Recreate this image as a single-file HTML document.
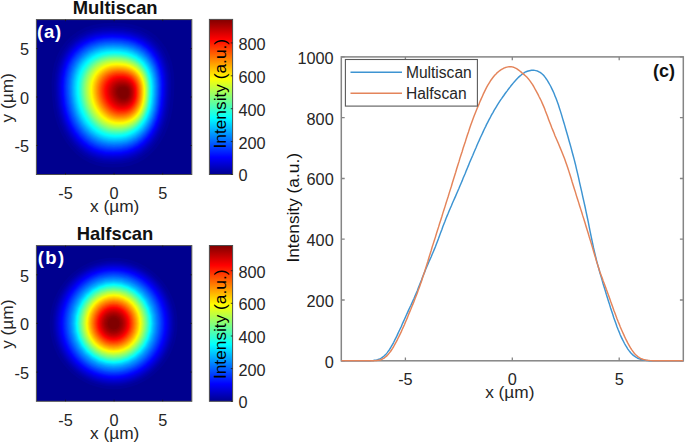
<!DOCTYPE html>
<html lang="en"><head><meta charset="utf-8"><title>Multiscan vs Halfscan</title>
<style>html,body{margin:0;padding:0;background:#fff}svg{display:block}</style></head>
<body>
<svg width="685" height="443" viewBox="0 0 685 443" font-family='"Liberation Sans", Arial, Helvetica, sans-serif' font-size="16.3" fill="#262626">
<rect width="685" height="443" fill="#fff"/>
<defs>
<linearGradient id="jet" x1="0" y1="1" x2="0" y2="0">
<stop offset="0.0000" stop-color="#00008f"/>
<stop offset="0.1111" stop-color="#0000ff"/>
<stop offset="0.3651" stop-color="#00ffff"/>
<stop offset="0.6190" stop-color="#ffff00"/>
<stop offset="0.8730" stop-color="#ff0000"/>
<stop offset="1.0000" stop-color="#800000"/>
</linearGradient>
<clipPath id="clipA"><rect x="36.4" y="19.6" width="155.4" height="154.9"/></clipPath>
<clipPath id="clipB"><rect x="36.4" y="245.6" width="155.4" height="155.70000000000002"/></clipPath>
</defs>
<g clip-path="url(#clipA)">
<rect x="36.4" y="19.6" width="155.4" height="154.9" fill="#00008f"/>
<path d="M174.0 95.1L174.4 82.3L173.7 72.2L172.0 63.1L169.3 55.0L165.7 47.6L161.1 41.2L155.6 35.6L149.2 31.0L141.9 27.4L133.7 24.8L124.6 23.2L112.9 22.7L102.1 23.3L93.1 24.9L85.0 27.6L77.6 31.4L71.1 36.2L65.4 41.9L60.6 48.5L56.9 56.0L54.1 64.3L52.3 73.3L51.5 83.3L51.9 95.1L53.1 106.9L55.1 116.9L57.9 125.9L61.5 134.2L65.8 141.7L70.7 148.3L76.2 154.0L82.3 158.8L88.9 162.6L96.0 165.3L103.7 167.0L112.9 167.5L122.9 167.0L130.8 165.4L137.9 162.8L144.4 159.2L150.3 154.6L155.7 149.0L160.4 142.6L164.6 135.2L168.0 127.1L170.7 118.0L172.7 107.9Z" fill="#000099"/>
<path d="M170.9 95.1L171.3 82.9L170.6 73.3L169.0 64.7L166.4 56.9L162.9 49.9L158.6 43.8L153.3 38.5L147.2 34.1L140.2 30.6L132.5 28.2L123.7 26.6L112.6 26.1L102.4 26.7L93.8 28.2L86.1 30.8L79.0 34.4L72.8 39.0L67.4 44.4L62.9 50.8L59.3 57.9L56.6 65.8L54.9 74.4L54.2 83.8L54.5 95.1L55.7 106.3L57.6 115.8L60.3 124.4L63.7 132.3L67.8 139.4L72.5 145.7L77.8 151.2L83.5 155.7L89.8 159.3L96.6 161.9L104.0 163.5L112.7 164.0L122.2 163.5L129.7 162.0L136.5 159.5L142.7 156.1L148.4 151.7L153.5 146.4L158.0 140.3L161.9 133.3L165.2 125.5L167.8 116.9L169.6 107.3Z" fill="#0000a4"/>
<path d="M169.2 95.1L169.6 83.2L168.9 73.9L167.3 65.5L164.8 57.9L161.4 51.2L157.2 45.2L152.0 40.1L146.1 35.8L139.4 32.4L131.8 30.0L123.3 28.6L112.5 28.1L102.6 28.6L94.2 30.1L86.7 32.6L79.9 36.1L73.8 40.6L68.5 45.9L64.1 52.0L60.6 58.9L58.0 66.6L56.4 75.0L55.7 84.1L56.0 95.1L57.2 106.0L59.1 115.1L61.7 123.5L65.0 131.2L69.0 138.1L73.5 144.2L78.7 149.5L84.3 154.0L90.4 157.5L97.0 160.0L104.2 161.5L112.7 162.0L121.9 161.5L129.2 160.1L135.8 157.7L141.8 154.3L147.3 150.0L152.3 144.9L156.7 138.9L160.5 132.2L163.7 124.6L166.2 116.2L168.0 106.9Z" fill="#0000ae"/>
<path d="M167.9 95.0L168.3 83.5L167.7 74.3L166.1 66.1L163.7 58.7L160.3 52.1L156.1 46.3L151.1 41.2L145.3 37.1L138.7 33.8L131.3 31.4L123.0 30.0L112.4 29.5L102.7 30.0L94.6 31.5L87.2 34.0L80.5 37.4L74.6 41.8L69.4 47.0L65.1 53.0L61.6 59.7L59.1 67.2L57.5 75.4L56.8 84.4L57.1 95.0L58.3 105.7L60.1 114.6L62.7 122.8L66.0 130.3L69.9 137.1L74.3 143.1L79.4 148.3L84.9 152.6L90.9 156.1L97.4 158.5L104.4 160.0L112.7 160.5L121.7 160.1L128.8 158.6L135.3 156.3L141.2 153.0L146.6 148.8L151.4 143.8L155.7 137.9L159.4 131.3L162.6 123.9L165.0 115.7L166.8 106.6Z" fill="#0000b9"/>
<path d="M166.9 95.0L167.3 83.7L166.6 74.7L165.1 66.7L162.7 59.4L159.4 52.9L155.3 47.2L150.4 42.2L144.7 38.2L138.2 34.9L130.9 32.6L122.7 31.2L112.4 30.7L102.8 31.2L94.8 32.7L87.6 35.1L81.0 38.5L75.2 42.7L70.1 47.9L65.9 53.8L62.5 60.4L60.0 67.8L58.5 75.8L57.8 84.6L58.1 95.0L59.2 105.4L61.1 114.2L63.6 122.2L66.8 129.6L70.6 136.2L75.0 142.2L80.0 147.3L85.4 151.5L91.3 154.9L97.7 157.3L104.5 158.8L112.7 159.3L121.5 158.8L128.5 157.4L134.9 155.1L140.7 151.9L145.9 147.8L150.7 142.8L154.9 137.1L158.6 130.6L161.6 123.4L164.0 115.3L165.8 106.3Z" fill="#0000c4"/>
<path d="M166.0 95.0L166.3 83.8L165.7 75.0L164.2 67.1L161.8 60.0L158.6 53.6L154.6 48.0L149.7 43.1L144.1 39.1L137.7 35.9L130.6 33.7L122.5 32.3L112.3 31.8L103.0 32.3L95.1 33.7L88.0 36.1L81.5 39.4L75.8 43.6L70.8 48.7L66.6 54.5L63.3 61.0L60.9 68.2L59.3 76.1L58.7 84.8L59.0 95.0L60.1 105.2L61.9 113.8L64.4 121.7L67.6 129.0L71.3 135.5L75.7 141.3L80.5 146.3L85.9 150.5L91.7 153.8L97.9 156.2L104.7 157.7L112.7 158.1L121.4 157.7L128.3 156.3L134.5 154.0L140.2 150.9L145.4 146.8L150.1 142.0L154.3 136.4L157.8 130.0L160.8 122.8L163.2 114.9L164.9 106.1Z" fill="#0000ce"/>
<path d="M165.2 95.0L165.5 84.0L164.9 75.3L163.4 67.5L161.1 60.5L157.9 54.2L153.9 48.7L149.1 43.9L143.6 40.0L137.3 36.9L130.2 34.6L122.3 33.3L112.3 32.8L103.1 33.3L95.4 34.7L88.3 37.1L82.0 40.3L76.3 44.4L71.4 49.4L67.3 55.1L64.0 61.5L61.6 68.7L60.1 76.4L59.5 84.9L59.8 95.0L60.9 105.0L62.7 113.5L65.1 121.2L68.3 128.4L72.0 134.8L76.3 140.5L81.1 145.5L86.3 149.6L92.0 152.8L98.2 155.2L104.9 156.6L112.7 157.1L121.3 156.6L128.1 155.3L134.2 153.0L139.8 149.9L144.9 146.0L149.5 141.2L153.6 135.7L157.2 129.4L160.1 122.4L162.4 114.6L164.1 105.9Z" fill="#0000d9"/>
<path d="M164.5 94.9L164.8 84.1L164.2 75.6L162.7 67.9L160.4 61.0L157.2 54.8L153.3 49.4L148.6 44.7L143.1 40.8L136.9 37.7L130.0 35.5L122.2 34.2L112.3 33.7L103.2 34.2L95.6 35.6L88.7 37.9L82.4 41.1L76.8 45.2L72.0 50.1L68.0 55.7L64.7 62.1L62.4 69.1L60.9 76.7L60.2 85.1L60.5 94.9L61.6 104.8L63.4 113.1L65.8 120.8L68.9 127.8L72.6 134.1L76.8 139.8L81.6 144.7L86.8 148.7L92.4 151.9L98.5 154.2L105.0 155.7L112.7 156.1L121.2 155.7L127.9 154.3L133.9 152.1L139.5 149.1L144.5 145.2L149.1 140.5L153.1 135.0L156.6 128.8L159.5 121.9L161.8 114.3L163.4 105.7Z" fill="#0000e4"/>
<path d="M163.8 94.9L164.1 84.3L163.5 75.9L162.0 68.3L159.7 61.5L156.6 55.4L152.7 50.0L148.1 45.4L142.7 41.6L136.6 38.5L129.7 36.4L122.0 35.0L112.3 34.6L103.4 35.1L95.9 36.5L89.0 38.7L82.9 41.9L77.4 45.9L72.6 50.7L68.6 56.3L65.4 62.5L63.1 69.4L61.6 77.0L61.0 85.2L61.3 94.9L62.4 104.6L64.1 112.8L66.5 120.4L69.6 127.3L73.2 133.5L77.4 139.1L82.1 143.9L87.2 147.9L92.7 151.1L98.7 153.3L105.2 154.7L112.8 155.2L121.1 154.8L127.7 153.4L133.7 151.3L139.1 148.2L144.1 144.4L148.6 139.8L152.6 134.4L156.0 128.3L158.9 121.5L161.1 113.9L162.7 105.5Z" fill="#0000ee"/>
<path d="M163.1 94.9L163.4 84.4L162.8 76.1L161.4 68.7L159.1 62.0L156.0 56.0L152.2 50.7L147.6 46.1L142.3 42.3L136.2 39.3L129.5 37.2L121.9 35.9L112.3 35.4L103.5 35.9L96.1 37.3L89.4 39.5L83.3 42.6L77.8 46.6L73.1 51.3L69.2 56.8L66.1 63.0L63.8 69.8L62.3 77.2L61.7 85.3L62.0 94.9L63.1 104.4L64.8 112.5L67.2 119.9L70.2 126.8L73.8 132.9L77.9 138.4L82.5 143.1L87.6 147.1L93.1 150.2L99.0 152.5L105.4 153.9L112.9 154.3L121.0 153.9L127.6 152.6L133.5 150.4L138.8 147.4L143.7 143.7L148.2 139.1L152.1 133.8L155.5 127.8L158.3 121.1L160.5 113.6L162.1 105.3Z" fill="#0000f9"/>
<path d="M162.5 94.9L162.8 84.5L162.2 76.4L160.7 69.0L158.5 62.4L155.5 56.5L151.7 51.2L147.2 46.8L141.9 43.0L135.9 40.1L129.3 38.0L121.8 36.7L112.3 36.3L103.7 36.7L96.4 38.1L89.7 40.3L83.7 43.4L78.3 47.3L73.7 51.9L69.8 57.4L66.7 63.4L64.4 70.2L63.0 77.5L62.4 85.5L62.7 94.9L63.8 104.2L65.5 112.2L67.8 119.5L70.8 126.3L74.4 132.3L78.4 137.8L83.0 142.4L88.0 146.3L93.4 149.4L99.3 151.7L105.6 153.0L112.9 153.5L121.0 153.0L127.4 151.7L133.2 149.6L138.6 146.7L143.4 142.9L147.8 138.5L151.6 133.2L155.0 127.3L157.7 120.7L159.9 113.3L161.5 105.2Z" fill="#0005ff"/>
<path d="M161.9 94.8L162.2 84.7L161.6 76.6L160.2 69.4L158.0 62.8L155.0 57.0L151.2 51.8L146.7 47.4L141.5 43.7L135.7 40.8L129.1 38.7L121.7 37.5L112.3 37.0L103.8 37.5L96.6 38.8L90.0 41.0L84.1 44.1L78.8 47.9L74.2 52.5L70.4 57.9L67.3 63.9L65.1 70.5L63.7 77.7L63.1 85.6L63.4 94.8L64.4 104.1L66.1 111.9L68.5 119.2L71.4 125.8L74.9 131.8L79.0 137.1L83.5 141.7L88.4 145.6L93.8 148.6L99.5 150.8L105.7 152.2L113.0 152.6L121.0 152.2L127.3 150.9L133.1 148.8L138.3 145.9L143.1 142.3L147.4 137.8L151.2 132.7L154.5 126.8L157.2 120.3L159.4 113.1L160.9 105.0Z" fill="#000fff"/>
<path d="M161.3 94.8L161.6 84.8L161.0 76.8L159.6 69.7L157.4 63.3L154.5 57.5L150.8 52.4L146.3 48.0L141.2 44.4L135.4 41.5L128.9 39.5L121.6 38.2L112.3 37.8L104.0 38.2L96.9 39.6L90.4 41.7L84.5 44.7L79.3 48.5L74.8 53.1L71.0 58.4L68.0 64.3L65.7 70.8L64.3 78.0L63.8 85.7L64.1 94.8L65.1 103.9L66.8 111.6L69.1 118.8L72.0 125.3L75.5 131.2L79.5 136.5L83.9 141.1L88.8 144.9L94.1 147.9L99.8 150.0L105.9 151.4L113.1 151.8L121.0 151.4L127.2 150.1L132.9 148.1L138.1 145.2L142.8 141.6L147.0 137.2L150.8 132.1L154.0 126.3L156.7 119.9L158.9 112.8L160.4 104.8Z" fill="#001aff"/>
<path d="M160.8 94.8L161.0 84.9L160.5 77.0L159.1 70.0L156.9 63.7L154.0 58.0L150.3 52.9L146.0 48.6L140.9 45.0L135.1 42.2L128.7 40.2L121.5 39.0L112.4 38.5L104.1 39.0L97.1 40.3L90.7 42.4L84.9 45.4L79.8 49.2L75.3 53.7L71.6 58.9L68.6 64.7L66.4 71.2L65.0 78.2L64.5 85.8L64.7 94.8L65.8 103.7L67.4 111.4L69.7 118.4L72.6 124.8L76.1 130.7L80.0 135.9L84.4 140.4L89.2 144.2L94.5 147.1L100.1 149.3L106.1 150.6L113.2 151.0L120.9 150.6L127.1 149.4L132.7 147.3L137.8 144.5L142.5 140.9L146.7 136.6L150.4 131.6L153.6 125.9L156.3 119.5L158.3 112.5L159.8 104.7Z" fill="#0025ff"/>
<path d="M160.3 94.7L160.5 85.0L159.9 77.3L158.5 70.3L156.4 64.1L153.5 58.4L149.9 53.5L145.6 49.2L140.6 45.7L134.9 42.9L128.6 40.9L121.4 39.7L112.4 39.3L104.3 39.7L97.4 41.0L91.1 43.1L85.4 46.0L80.3 49.8L75.9 54.2L72.2 59.3L69.2 65.1L67.0 71.5L65.7 78.4L65.1 85.9L65.4 94.7L66.5 103.6L68.1 111.1L70.4 118.0L73.2 124.4L76.6 130.2L80.5 135.3L84.9 139.7L89.7 143.4L94.8 146.4L100.4 148.5L106.3 149.8L113.3 150.2L120.9 149.8L127.0 148.6L132.6 146.6L137.6 143.8L142.2 140.3L146.3 136.0L150.0 131.1L153.2 125.4L155.8 119.2L157.9 112.2L159.3 104.5Z" fill="#002fff"/>
<path d="M159.7 94.7L160.0 85.1L159.4 77.5L158.0 70.6L155.9 64.5L153.1 58.9L149.5 54.0L145.2 49.8L140.3 46.3L134.7 43.6L128.4 41.6L121.4 40.4L112.5 40.0L104.5 40.4L97.7 41.7L91.4 43.8L85.8 46.7L80.8 50.4L76.4 54.7L72.7 59.8L69.8 65.5L67.7 71.8L66.4 78.6L65.8 86.1L66.1 94.7L67.1 103.4L68.8 110.8L71.0 117.7L73.8 123.9L77.2 129.6L81.0 134.7L85.4 139.1L90.1 142.8L95.2 145.6L100.7 147.7L106.5 149.0L113.4 149.4L120.9 149.0L127.0 147.8L132.4 145.9L137.4 143.1L141.9 139.6L146.0 135.4L149.6 130.5L152.7 125.0L155.3 118.8L157.4 112.0L158.8 104.3Z" fill="#003aff"/>
<path d="M159.2 94.7L159.5 85.2L158.9 77.7L157.5 70.9L155.4 64.9L152.6 59.4L149.1 54.6L144.9 50.4L140.0 47.0L134.5 44.3L128.3 42.3L121.3 41.1L112.6 40.7L104.7 41.2L97.9 42.4L91.8 44.5L86.2 47.3L81.3 51.0L76.9 55.3L73.3 60.3L70.5 65.9L68.4 72.1L67.0 78.8L66.5 86.2L66.8 94.7L67.8 103.2L69.4 110.6L71.6 117.3L74.4 123.5L77.8 129.1L81.6 134.1L85.8 138.4L90.5 142.1L95.5 144.9L100.9 147.0L106.8 148.2L113.5 148.7L121.0 148.3L126.9 147.1L132.3 145.1L137.2 142.4L141.7 139.0L145.7 134.8L149.3 130.0L152.3 124.5L154.9 118.5L156.9 111.7L158.3 104.2Z" fill="#0045ff"/>
<path d="M158.7 94.7L159.0 85.3L158.4 77.9L157.0 71.3L155.0 65.2L152.2 59.9L148.7 55.1L144.5 51.0L139.7 47.6L134.2 44.9L128.1 43.0L121.3 41.9L112.6 41.5L104.9 41.9L98.2 43.1L92.2 45.2L86.7 48.0L81.7 51.5L77.5 55.8L73.9 60.8L71.1 66.3L69.0 72.4L67.7 79.1L67.2 86.3L67.5 94.7L68.5 103.1L70.1 110.3L72.3 116.9L75.0 123.0L78.3 128.6L82.1 133.5L86.3 137.8L90.9 141.4L95.9 144.2L101.2 146.2L107.0 147.5L113.6 147.9L121.0 147.5L126.8 146.3L132.1 144.4L137.0 141.7L141.4 138.3L145.4 134.2L148.9 129.5L151.9 124.1L154.5 118.1L156.4 111.4L157.9 104.0Z" fill="#004fff"/>
<path d="M158.2 94.6L158.5 85.4L157.9 78.1L156.6 71.6L154.5 65.6L151.8 60.3L148.3 55.6L144.2 51.6L139.4 48.2L134.0 45.6L128.0 43.7L121.2 42.6L112.7 42.2L105.1 42.6L98.5 43.8L92.5 45.8L87.1 48.6L82.3 52.1L78.1 56.4L74.5 61.2L71.7 66.7L69.7 72.7L68.4 79.3L67.9 86.4L68.2 94.6L69.2 102.9L70.7 110.0L72.9 116.6L75.7 122.6L78.9 128.1L82.6 132.9L86.8 137.2L91.4 140.7L96.3 143.5L101.5 145.5L107.2 146.7L113.7 147.1L121.0 146.7L126.8 145.6L132.0 143.7L136.8 141.0L141.2 137.7L145.1 133.7L148.6 129.0L151.6 123.7L154.0 117.7L156.0 111.2L157.4 103.9Z" fill="#005aff"/>
<path d="M157.8 94.6L158.0 85.5L157.4 78.3L156.1 71.9L154.1 66.0L151.3 60.8L147.9 56.2L143.9 52.2L139.2 48.9L133.8 46.3L127.9 44.4L121.2 43.3L112.8 42.9L105.3 43.3L98.8 44.5L92.9 46.5L87.5 49.2L82.8 52.7L78.6 56.9L75.1 61.7L72.4 67.1L70.4 73.0L69.1 79.5L68.6 86.5L68.9 94.6L69.9 102.7L71.4 109.8L73.6 116.2L76.3 122.2L79.5 127.6L83.2 132.4L87.3 136.5L91.8 140.0L96.6 142.8L101.8 144.7L107.4 146.0L113.8 146.4L121.0 146.0L126.7 144.8L131.9 143.0L136.6 140.4L140.9 137.1L144.8 133.1L148.2 128.5L151.2 123.2L153.6 117.4L155.5 110.9L156.9 103.7Z" fill="#0065ff"/>
<path d="M157.3 94.6L157.5 85.7L156.9 78.5L155.6 72.2L153.6 66.4L150.9 61.2L147.6 56.7L143.6 52.7L138.9 49.5L133.6 46.9L127.8 45.1L121.2 44.0L112.9 43.6L105.5 44.0L99.1 45.2L93.3 47.1L88.0 49.9L83.2 53.3L79.2 57.4L75.7 62.1L73.0 67.5L71.0 73.3L69.8 79.7L69.3 86.6L69.5 94.6L70.5 102.6L72.1 109.5L74.2 115.9L76.9 121.7L80.0 127.1L83.7 131.8L87.8 135.9L92.2 139.3L97.0 142.1L102.1 144.0L107.6 145.2L114.0 145.6L121.0 145.2L126.7 144.1L131.8 142.3L136.4 139.7L140.7 136.4L144.5 132.5L147.9 128.0L150.8 122.8L153.2 117.0L155.1 110.7L156.4 103.5Z" fill="#006fff"/>
<path d="M156.8 94.6L157.0 85.8L156.4 78.7L155.2 72.4L153.2 66.8L150.5 61.7L147.2 57.2L143.2 53.3L138.6 50.1L133.4 47.6L127.7 45.7L121.1 44.6L112.9 44.3L105.6 44.7L99.4 45.8L93.6 47.8L88.4 50.5L83.7 53.8L79.7 57.9L76.3 62.6L73.6 67.8L71.6 73.6L70.4 79.9L69.9 86.7L70.2 94.6L71.2 102.4L72.7 109.2L74.8 115.5L77.4 121.3L80.6 126.6L84.2 131.2L88.2 135.3L92.6 138.7L97.3 141.4L102.4 143.3L107.8 144.5L114.1 144.9L121.1 144.5L126.6 143.4L131.7 141.6L136.3 139.0L140.4 135.8L144.2 132.0L147.5 127.5L150.4 122.4L152.8 116.7L154.7 110.4L156.0 103.4Z" fill="#007aff"/>
<path d="M156.3 94.5L156.5 85.9L156.0 78.9L154.7 72.7L152.7 67.1L150.1 62.1L146.8 57.7L142.9 53.8L138.4 50.7L133.2 48.2L127.5 46.4L121.1 45.3L113.0 44.9L105.8 45.3L99.6 46.5L93.9 48.4L88.8 51.0L84.2 54.4L80.2 58.4L76.9 63.0L74.2 68.2L72.3 73.9L71.0 80.1L70.6 86.8L70.8 94.5L71.8 102.3L73.3 109.0L75.4 115.2L78.0 120.9L81.1 126.1L84.7 130.7L88.6 134.7L93.0 138.1L97.7 140.7L102.7 142.6L108.0 143.8L114.2 144.2L121.1 143.8L126.6 142.7L131.5 140.9L136.1 138.4L140.2 135.2L143.9 131.4L147.2 127.0L150.0 122.0L152.4 116.4L154.2 110.2L155.5 103.2Z" fill="#0085ff"/>
<path d="M155.9 94.5L156.0 85.9L155.5 79.1L154.2 73.0L152.3 67.5L149.7 62.5L146.5 58.1L142.6 54.4L138.1 51.3L133.0 48.8L127.4 47.0L121.0 45.9L113.1 45.6L106.0 46.0L99.9 47.1L94.2 49.0L89.2 51.6L84.6 54.9L80.7 58.9L77.4 63.4L74.8 68.5L72.8 74.2L71.6 80.3L71.2 86.9L71.5 94.5L72.4 102.1L73.9 108.8L76.0 114.9L78.5 120.5L81.6 125.6L85.1 130.2L89.1 134.1L93.4 137.4L98.0 140.0L102.9 141.9L108.2 143.1L114.3 143.5L121.1 143.1L126.5 142.0L131.4 140.3L135.9 137.8L140.0 134.7L143.6 130.9L146.9 126.5L149.7 121.6L152.0 116.0L153.8 109.9L155.1 103.1Z" fill="#008fff"/>
<path d="M155.4 94.5L155.6 86.0L155.0 79.3L153.8 73.3L151.9 67.8L149.3 62.9L146.1 58.6L142.3 54.9L137.8 51.8L132.8 49.4L127.3 47.6L121.0 46.6L113.1 46.2L106.1 46.6L100.1 47.7L94.6 49.6L89.5 52.2L85.0 55.4L81.1 59.3L77.9 63.8L75.3 68.9L73.4 74.4L72.2 80.5L71.8 87.0L72.0 94.5L73.0 102.0L74.5 108.5L76.5 114.5L79.1 120.1L82.1 125.2L85.6 129.7L89.5 133.6L93.7 136.8L98.3 139.4L103.2 141.3L108.4 142.4L114.3 142.8L121.1 142.4L126.4 141.4L131.3 139.6L135.7 137.2L139.7 134.1L143.3 130.4L146.5 126.1L149.3 121.2L151.6 115.7L153.4 109.7L154.6 102.9Z" fill="#009aff"/>
<path d="M154.9 94.5L155.1 86.1L154.6 79.5L153.3 73.5L151.4 68.2L148.9 63.3L145.7 59.1L141.9 55.4L137.6 52.4L132.6 50.0L127.1 48.2L120.9 47.2L113.1 46.8L106.3 47.2L100.3 48.3L94.8 50.2L89.9 52.7L85.5 55.9L81.6 59.8L78.4 64.2L75.8 69.2L74.0 74.7L72.8 80.7L72.3 87.1L72.6 94.5L73.5 101.8L75.0 108.3L77.0 114.2L79.6 119.7L82.6 124.7L86.0 129.1L89.9 133.0L94.1 136.2L98.6 138.8L103.4 140.6L108.5 141.7L114.4 142.1L121.0 141.7L126.3 140.7L131.1 139.0L135.5 136.6L139.5 133.5L143.0 129.9L146.2 125.6L148.9 120.8L151.2 115.4L152.9 109.4L154.2 102.8Z" fill="#00a4ff"/>
<path d="M154.5 94.4L154.6 86.2L154.1 79.7L152.9 73.8L151.0 68.5L148.5 63.7L145.4 59.5L141.6 55.9L137.3 52.9L132.4 50.5L127.0 48.8L120.9 47.8L113.2 47.5L106.4 47.8L100.5 48.9L95.1 50.8L90.2 53.3L85.9 56.4L82.1 60.3L78.9 64.6L76.4 69.6L74.5 75.0L73.4 80.8L72.9 87.2L73.2 94.4L74.1 101.7L75.6 108.0L77.6 113.9L80.1 119.3L83.1 124.2L86.5 128.6L90.3 132.4L94.4 135.6L98.9 138.1L103.6 140.0L108.7 141.1L114.5 141.4L121.0 141.1L126.3 140.1L131.0 138.4L135.3 136.0L139.2 133.0L142.7 129.4L145.9 125.2L148.6 120.4L150.8 115.1L152.5 109.2L153.7 102.7Z" fill="#00afff"/>
<path d="M154.0 94.4L154.2 86.3L153.6 79.9L152.4 74.1L150.6 68.8L148.1 64.1L145.0 60.0L141.3 56.4L137.1 53.4L132.2 51.1L126.9 49.4L120.8 48.4L113.2 48.1L106.6 48.4L100.8 49.5L95.4 51.3L90.6 53.8L86.3 56.9L82.5 60.7L79.4 65.0L76.9 69.9L75.1 75.2L73.9 81.0L73.5 87.3L73.8 94.4L74.7 101.6L76.1 107.8L78.1 113.6L80.6 118.9L83.5 123.8L86.9 128.1L90.6 131.9L94.7 135.0L99.1 137.5L103.8 139.3L108.9 140.4L114.6 140.8L121.0 140.4L126.2 139.4L130.8 137.7L135.1 135.4L139.0 132.4L142.5 128.9L145.5 124.7L148.2 120.0L150.4 114.8L152.1 109.0L153.3 102.5Z" fill="#00baff"/>
<path d="M153.6 94.4L153.7 86.4L153.2 80.0L152.0 74.3L150.2 69.2L147.7 64.5L144.7 60.4L141.0 56.9L136.8 54.0L132.0 51.7L126.7 50.0L120.8 49.0L113.3 48.7L106.7 49.0L101.0 50.1L95.7 51.9L91.0 54.3L86.7 57.4L83.0 61.2L79.9 65.4L77.4 70.2L75.6 75.5L74.5 81.2L74.1 87.4L74.4 94.4L75.3 101.4L76.7 107.6L78.6 113.3L81.1 118.6L84.0 123.4L87.3 127.6L91.0 131.3L95.1 134.4L99.4 136.9L104.1 138.7L109.0 139.7L114.7 140.1L121.0 139.8L126.1 138.8L130.7 137.1L134.9 134.8L138.7 131.9L142.2 128.4L145.2 124.3L147.8 119.6L150.0 114.5L151.7 108.8L152.9 102.4Z" fill="#00c4ff"/>
<path d="M153.2 94.4L153.3 86.5L152.8 80.2L151.6 74.6L149.8 69.5L147.3 64.9L144.3 60.9L140.7 57.4L136.6 54.5L131.9 52.3L126.6 50.6L120.7 49.6L113.4 49.3L106.9 49.7L101.2 50.7L96.1 52.5L91.3 54.9L87.1 58.0L83.5 61.6L80.4 65.8L78.0 70.6L76.2 75.8L75.1 81.4L74.7 87.5L75.0 94.4L75.8 101.3L77.3 107.4L79.2 113.0L81.6 118.2L84.5 122.9L87.8 127.1L91.5 130.8L95.5 133.8L99.7 136.3L104.3 138.0L109.2 139.1L114.8 139.4L121.0 139.1L126.1 138.1L130.6 136.5L134.7 134.2L138.5 131.3L141.9 127.9L144.9 123.8L147.5 119.3L149.6 114.2L151.3 108.5L152.5 102.2Z" fill="#00cfff"/>
<path d="M152.7 94.3L152.9 86.6L152.3 80.4L151.2 74.8L149.4 69.8L147.0 65.3L144.0 61.3L140.4 57.9L136.3 55.1L131.7 52.8L126.5 51.2L120.7 50.2L113.4 49.9L107.1 50.3L101.5 51.3L96.4 53.0L91.7 55.4L87.6 58.5L84.0 62.1L80.9 66.2L78.6 70.9L76.8 76.0L75.7 81.6L75.3 87.5L75.6 94.3L76.4 101.1L77.8 107.1L79.8 112.7L82.2 117.8L85.0 122.5L88.3 126.6L91.9 130.2L95.8 133.2L100.1 135.6L104.6 137.4L109.4 138.4L114.9 138.8L121.1 138.4L126.0 137.5L130.5 135.8L134.6 133.6L138.3 130.8L141.6 127.4L144.6 123.4L147.1 118.9L149.2 113.8L150.9 108.3L152.0 102.1Z" fill="#00daff"/>
<path d="M152.3 94.3L152.4 86.7L151.9 80.6L150.7 75.1L149.0 70.2L146.6 65.7L143.7 61.8L140.2 58.4L136.1 55.6L131.5 53.4L126.4 51.8L120.7 50.9L113.5 50.5L107.3 50.9L101.8 51.9L96.7 53.6L92.1 56.0L88.0 59.0L84.5 62.5L81.5 66.6L79.1 71.2L77.4 76.3L76.3 81.7L75.9 87.6L76.2 94.3L77.1 101.0L78.4 106.9L80.3 112.4L82.7 117.4L85.5 122.0L88.7 126.1L92.3 129.7L96.2 132.7L100.4 135.0L104.9 136.7L109.6 137.7L115.0 138.1L121.1 137.8L126.0 136.8L130.4 135.2L134.4 133.0L138.1 130.2L141.4 126.8L144.3 122.9L146.8 118.5L148.9 113.5L150.5 108.1L151.6 102.0Z" fill="#00e4ff"/>
<path d="M151.9 94.3L152.0 86.8L151.5 80.8L150.4 75.4L148.6 70.5L146.3 66.1L143.4 62.3L139.9 58.9L135.9 56.2L131.4 54.0L126.4 52.4L120.7 51.5L113.6 51.2L107.5 51.5L102.1 52.5L97.1 54.2L92.6 56.5L88.5 59.5L85.0 63.0L82.1 67.0L79.7 71.6L78.0 76.5L77.0 81.9L76.6 87.7L76.8 94.3L77.7 100.9L79.1 106.7L80.9 112.1L83.3 117.0L86.1 121.6L89.2 125.6L92.8 129.1L96.6 132.1L100.7 134.4L105.1 136.1L109.8 137.1L115.1 137.4L121.1 137.1L126.0 136.2L130.3 134.6L134.3 132.4L137.9 129.7L141.1 126.3L144.0 122.5L146.5 118.1L148.5 113.2L150.1 107.8L151.2 101.8Z" fill="#00efff"/>
<path d="M151.5 94.3L151.6 86.9L151.1 80.9L150.0 75.6L148.3 70.8L145.9 66.5L143.1 62.7L139.7 59.4L135.7 56.7L131.3 54.6L126.3 53.0L120.7 52.1L113.8 51.8L107.7 52.1L102.3 53.1L97.4 54.8L93.0 57.1L89.0 60.0L85.5 63.4L82.6 67.4L80.3 71.9L78.7 76.8L77.6 82.1L77.2 87.8L77.5 94.3L78.3 100.7L79.7 106.4L81.5 111.7L83.9 116.6L86.6 121.1L89.7 125.1L93.2 128.6L97.0 131.5L101.1 133.8L105.4 135.4L110.1 136.4L115.2 136.8L121.2 136.4L125.9 135.5L130.2 134.0L134.1 131.8L137.7 129.1L140.9 125.8L143.7 122.0L146.2 117.7L148.2 112.9L149.8 107.6L150.9 101.7Z" fill="#00faff"/>
<path d="M151.1 94.2L151.2 86.9L150.7 81.1L149.6 75.9L147.9 71.1L145.6 66.9L142.8 63.1L139.4 59.9L135.5 57.2L131.1 55.1L126.2 53.6L120.7 52.7L113.9 52.4L107.9 52.7L102.6 53.7L97.8 55.3L93.4 57.6L89.5 60.5L86.1 63.9L83.2 67.8L80.9 72.2L79.3 77.0L78.2 82.3L77.9 87.9L78.1 94.2L79.0 100.6L80.3 106.2L82.1 111.4L84.4 116.3L87.1 120.7L90.2 124.6L93.7 128.0L97.4 130.9L101.4 133.1L105.7 134.8L110.3 135.8L115.4 136.1L121.2 135.8L125.9 134.9L130.2 133.4L134.0 131.2L137.5 128.6L140.7 125.3L143.5 121.6L145.9 117.3L147.9 112.6L149.4 107.4L150.5 101.5Z" fill="#05fffa"/>
<path d="M150.8 94.2L150.9 87.0L150.3 81.3L149.2 76.1L147.6 71.5L145.3 67.3L142.5 63.6L139.2 60.4L135.4 57.8L131.0 55.7L126.2 54.2L120.8 53.3L114.0 53.0L108.1 53.3L102.9 54.3L98.2 55.9L93.8 58.1L89.9 60.9L86.6 64.3L83.7 68.2L81.5 72.5L79.9 77.3L78.9 82.4L78.5 88.0L78.7 94.2L79.6 100.5L80.9 106.0L82.7 111.1L85.0 115.9L87.7 120.3L90.7 124.1L94.1 127.5L97.8 130.3L101.8 132.5L106.0 134.2L110.5 135.1L115.5 135.5L121.3 135.2L125.9 134.3L130.1 132.8L133.9 130.7L137.4 128.0L140.5 124.9L143.2 121.2L145.6 117.0L147.6 112.3L149.1 107.2L150.1 101.4Z" fill="#10ffef"/>
<path d="M150.4 94.2L150.5 87.1L150.0 81.4L148.9 76.4L147.2 71.8L145.0 67.6L142.3 64.0L139.0 60.9L135.2 58.3L130.9 56.2L126.1 54.7L120.8 53.8L114.1 53.5L108.3 53.9L103.2 54.8L98.5 56.4L94.2 58.6L90.4 61.4L87.1 64.7L84.3 68.5L82.1 72.8L80.5 77.5L79.5 82.6L79.1 88.0L79.4 94.2L80.2 100.3L81.5 105.8L83.3 110.9L85.5 115.6L88.2 119.8L91.2 123.7L94.5 127.0L98.2 129.8L102.1 132.0L106.3 133.6L110.7 134.5L115.7 134.9L121.4 134.6L125.9 133.7L130.0 132.2L133.8 130.1L137.2 127.5L140.3 124.4L143.0 120.8L145.3 116.6L147.3 112.0L148.8 106.9L149.8 101.3Z" fill="#1bffe4"/>
<path d="M150.1 94.2L150.2 87.2L149.7 81.6L148.6 76.6L146.9 72.1L144.7 68.0L142.0 64.4L138.8 61.3L135.0 58.7L130.8 56.7L126.1 55.3L120.8 54.4L114.2 54.1L108.5 54.4L103.5 55.3L98.8 56.9L94.6 59.1L90.8 61.8L87.6 65.1L84.8 68.9L82.6 73.1L81.0 77.7L80.1 82.8L79.7 88.1L79.9 94.2L80.8 100.2L82.1 105.6L83.8 110.6L86.0 115.2L88.7 119.4L91.6 123.2L95.0 126.5L98.6 129.2L102.4 131.4L106.6 133.0L110.9 133.9L115.8 134.3L121.4 134.0L125.9 133.1L130.0 131.6L133.7 129.6L137.1 127.0L140.1 123.9L142.8 120.3L145.1 116.3L147.0 111.7L148.4 106.7L149.5 101.1Z" fill="#25ffda"/>
<path d="M149.8 94.1L149.8 87.3L149.3 81.7L148.3 76.8L146.6 72.3L144.5 68.3L141.8 64.8L138.6 61.7L134.9 59.2L130.7 57.2L126.0 55.8L120.8 54.9L114.3 54.6L108.7 54.9L103.7 55.9L99.2 57.4L95.0 59.6L91.3 62.3L88.0 65.5L85.3 69.2L83.2 73.4L81.6 78.0L80.6 82.9L80.2 88.2L80.5 94.1L81.3 100.1L82.6 105.4L84.3 110.3L86.5 114.9L89.1 119.1L92.1 122.8L95.4 126.0L98.9 128.7L102.8 130.9L106.8 132.4L111.1 133.4L115.9 133.7L121.5 133.4L125.9 132.5L129.9 131.1L133.6 129.1L136.9 126.6L139.9 123.5L142.6 120.0L144.8 116.0L146.7 111.5L148.1 106.5L149.2 101.0Z" fill="#30ffcf"/>
<path d="M149.5 94.1L149.6 87.3L149.0 81.9L148.0 77.0L146.4 72.6L144.2 68.6L141.6 65.1L138.4 62.1L134.7 59.6L130.6 57.6L126.0 56.2L120.9 55.4L114.4 55.1L108.9 55.4L104.0 56.3L99.5 57.8L95.3 60.0L91.7 62.6L88.4 65.8L85.8 69.5L83.6 73.6L82.1 78.2L81.1 83.0L80.8 88.3L81.0 94.1L81.8 100.0L83.1 105.2L84.8 110.1L87.0 114.6L89.6 118.7L92.5 122.4L95.7 125.6L99.3 128.3L103.1 130.4L107.1 131.9L111.3 132.9L116.1 133.2L121.5 132.9L125.9 132.0L129.9 130.6L133.5 128.6L136.8 126.1L139.8 123.1L142.4 119.6L144.6 115.6L146.5 111.2L147.9 106.4L148.9 100.9Z" fill="#3bffc4"/>
<path d="M149.2 94.1L149.3 87.4L148.8 82.0L147.7 77.2L146.1 72.8L144.0 68.9L141.4 65.5L138.2 62.5L134.6 60.0L130.5 58.1L126.0 56.7L120.9 55.8L114.5 55.5L109.1 55.8L104.2 56.8L99.8 58.3L95.7 60.4L92.0 63.0L88.9 66.2L86.2 69.8L84.1 73.9L82.6 78.3L81.6 83.2L81.3 88.3L81.5 94.1L82.3 99.9L83.6 105.0L85.3 109.8L87.4 114.3L90.0 118.4L92.9 122.0L96.1 125.2L99.6 127.8L103.3 129.9L107.3 131.4L111.5 132.3L116.2 132.7L121.6 132.4L125.9 131.5L129.8 130.1L133.4 128.2L136.7 125.7L139.6 122.7L142.2 119.3L144.4 115.4L146.2 111.0L147.6 106.2L148.6 100.8Z" fill="#45ffba"/>
<path d="M148.9 94.1L149.0 87.4L148.5 82.1L147.5 77.4L145.9 73.1L143.8 69.2L141.2 65.8L138.1 62.8L134.5 60.4L130.5 58.5L126.0 57.1L120.9 56.3L114.7 56.0L109.3 56.3L104.5 57.2L100.1 58.7L96.0 60.8L92.4 63.4L89.3 66.5L86.7 70.1L84.6 74.1L83.1 78.5L82.1 83.3L81.8 88.4L82.0 94.1L82.8 99.8L84.1 104.8L85.8 109.6L87.9 114.0L90.4 118.0L93.3 121.6L96.5 124.7L99.9 127.4L103.6 129.4L107.6 130.9L111.7 131.8L116.3 132.1L121.7 131.9L125.9 131.0L129.8 129.6L133.4 127.7L136.6 125.3L139.5 122.3L142.0 118.9L144.2 115.1L146.0 110.8L147.4 106.0L148.4 100.7Z" fill="#50ffaf"/>
<path d="M148.7 94.0L148.7 87.5L148.2 82.3L147.2 77.6L145.6 73.3L143.6 69.5L141.0 66.1L137.9 63.2L134.4 60.8L130.4 58.9L125.9 57.5L121.0 56.7L114.8 56.4L109.5 56.7L104.7 57.6L100.4 59.1L96.4 61.2L92.8 63.8L89.7 66.8L87.1 70.4L85.1 74.4L83.6 78.7L82.6 83.4L82.3 88.4L82.5 94.0L83.3 99.6L84.6 104.7L86.2 109.4L88.3 113.7L90.8 117.7L93.7 121.2L96.8 124.3L100.2 126.9L103.9 129.0L107.8 130.4L111.9 131.3L116.4 131.6L121.7 131.4L126.0 130.5L129.8 129.2L133.3 127.3L136.5 124.9L139.3 122.0L141.8 118.6L144.0 114.8L145.8 110.5L147.2 105.8L148.1 100.6Z" fill="#5bffa4"/>
<path d="M148.4 94.0L148.5 87.6L148.0 82.4L146.9 77.7L145.4 73.5L143.3 69.8L140.8 66.4L137.8 63.6L134.3 61.2L130.3 59.3L125.9 58.0L121.0 57.2L114.9 56.9L109.6 57.2L105.0 58.1L100.7 59.5L96.7 61.6L93.2 64.1L90.1 67.2L87.6 70.7L85.5 74.6L84.0 78.9L83.1 83.5L82.8 88.5L83.0 94.0L83.8 99.5L85.0 104.5L86.7 109.1L88.8 113.4L91.3 117.3L94.1 120.9L97.2 123.9L100.6 126.5L104.2 128.5L108.0 130.0L112.1 130.8L116.6 131.1L121.8 130.9L126.0 130.1L129.8 128.7L133.2 126.8L136.3 124.4L139.2 121.6L141.7 118.3L143.8 114.5L145.5 110.3L146.9 105.6L147.9 100.5Z" fill="#65ff9a"/>
<path d="M148.1 94.0L148.2 87.6L147.7 82.5L146.7 77.9L145.2 73.8L143.1 70.1L140.6 66.8L137.6 63.9L134.1 61.6L130.2 59.7L125.9 58.4L121.0 57.6L115.0 57.3L109.8 57.6L105.2 58.5L100.9 60.0L97.1 62.0L93.6 64.5L90.5 67.5L88.0 71.0L86.0 74.8L84.5 79.1L83.6 83.7L83.3 88.6L83.6 94.0L84.3 99.4L85.5 104.3L87.2 108.9L89.3 113.1L91.7 117.0L94.5 120.5L97.6 123.5L100.9 126.0L104.5 128.0L108.3 129.5L112.3 130.3L116.7 130.6L121.9 130.4L126.0 129.6L129.7 128.2L133.1 126.4L136.2 124.0L139.0 121.2L141.5 117.9L143.6 114.2L145.3 110.0L146.7 105.5L147.6 100.4Z" fill="#70ff8f"/>
<path d="M147.9 94.0L147.9 87.7L147.4 82.6L146.4 78.1L144.9 74.0L142.9 70.4L140.4 67.1L137.4 64.3L134.0 62.0L130.2 60.2L125.9 58.9L121.1 58.1L115.1 57.8L110.0 58.1L105.5 59.0L101.3 60.4L97.4 62.4L94.0 64.9L91.0 67.8L88.5 71.3L86.5 75.1L85.0 79.3L84.2 83.8L83.8 88.6L84.1 94.0L84.8 99.3L86.0 104.1L87.7 108.6L89.7 112.8L92.1 116.7L94.9 120.1L97.9 123.1L101.2 125.6L104.8 127.5L108.5 129.0L112.5 129.8L116.8 130.1L121.9 129.9L126.0 129.1L129.7 127.8L133.1 125.9L136.1 123.6L138.9 120.8L141.3 117.6L143.4 113.9L145.1 109.8L146.4 105.3L147.3 100.2Z" fill="#7bff84"/>
<path d="M147.6 93.9L147.6 87.7L147.2 82.8L146.2 78.3L144.7 74.3L142.7 70.7L140.2 67.5L137.3 64.7L133.9 62.4L130.1 60.6L125.9 59.3L121.1 58.5L115.2 58.3L110.2 58.5L105.7 59.4L101.6 60.8L97.8 62.8L94.4 65.2L91.4 68.2L88.9 71.6L87.0 75.3L85.6 79.5L84.7 83.9L84.4 88.7L84.6 93.9L85.4 99.2L86.5 104.0L88.2 108.4L90.2 112.5L92.6 116.3L95.3 119.7L98.3 122.6L101.6 125.1L105.1 127.1L108.8 128.5L112.7 129.3L117.0 129.6L122.0 129.4L126.0 128.6L129.7 127.3L133.0 125.5L136.0 123.2L138.7 120.4L141.1 117.2L143.2 113.6L144.9 109.6L146.2 105.1L147.1 100.1Z" fill="#85ff7a"/>
<path d="M147.3 93.9L147.4 87.8L146.9 82.9L145.9 78.5L144.4 74.5L142.5 71.0L140.0 67.8L137.1 65.1L133.8 62.8L130.0 61.0L125.8 59.8L121.2 59.0L115.3 58.7L110.4 59.0L106.0 59.9L101.9 61.3L98.1 63.2L94.8 65.6L91.9 68.5L89.4 71.9L87.5 75.6L86.1 79.7L85.2 84.0L84.9 88.7L85.1 93.9L85.9 99.1L87.1 103.8L88.7 108.2L90.7 112.2L93.0 116.0L95.7 119.3L98.7 122.2L101.9 124.6L105.4 126.6L109.0 128.0L112.9 128.8L117.1 129.1L122.1 128.8L126.0 128.1L129.6 126.8L132.9 125.0L135.9 122.7L138.6 120.0L140.9 116.9L143.0 113.3L144.6 109.3L145.9 104.9L146.8 100.0Z" fill="#90ff6f"/>
<path d="M147.0 93.9L147.1 87.9L146.6 83.0L145.6 78.7L144.2 74.8L142.2 71.3L139.8 68.2L137.0 65.5L133.7 63.3L130.0 61.5L125.8 60.2L121.2 59.5L115.5 59.2L110.6 59.5L106.3 60.3L102.2 61.7L98.5 63.6L95.2 66.0L92.3 68.9L89.9 72.2L88.0 75.8L86.6 79.9L85.8 84.2L85.5 88.8L85.7 93.9L86.4 99.0L87.6 103.6L89.2 107.9L91.2 111.9L93.5 115.6L96.1 118.9L99.1 121.8L102.3 124.2L105.7 126.1L109.3 127.4L113.1 128.3L117.2 128.6L122.1 128.3L126.1 127.5L129.6 126.3L132.8 124.5L135.8 122.3L138.4 119.6L140.8 116.5L142.7 113.0L144.4 109.1L145.7 104.7L146.5 99.9Z" fill="#9bff64"/>
<path d="M146.7 93.9L146.8 87.9L146.3 83.2L145.4 78.9L143.9 75.1L142.0 71.6L139.6 68.5L136.8 65.9L133.6 63.7L129.9 62.0L125.8 60.7L121.3 60.0L115.6 59.7L110.8 60.0L106.5 60.8L102.5 62.2L98.9 64.0L95.6 66.4L92.8 69.2L90.4 72.5L88.5 76.1L87.2 80.1L86.3 84.3L86.0 88.9L86.3 93.9L87.0 98.9L88.1 103.4L89.7 107.7L91.7 111.6L94.0 115.2L96.6 118.5L99.5 121.3L102.6 123.7L106.0 125.6L109.6 126.9L113.3 127.7L117.4 128.0L122.2 127.8L126.1 127.0L129.6 125.8L132.8 124.0L135.7 121.8L138.3 119.2L140.6 116.1L142.5 112.7L144.1 108.8L145.4 104.5L146.3 99.8Z" fill="#a5ff5a"/>
<path d="M146.5 93.8L146.5 88.0L146.0 83.3L145.1 79.1L143.7 75.3L141.8 71.9L139.4 68.9L136.6 66.3L133.4 64.1L129.8 62.4L125.8 61.2L121.3 60.5L115.8 60.2L111.1 60.5L106.8 61.3L102.9 62.6L99.3 64.5L96.1 66.8L93.3 69.6L90.9 72.8L89.1 76.4L87.7 80.3L86.9 84.5L86.6 88.9L86.8 93.8L87.6 98.8L88.7 103.2L90.2 107.4L92.2 111.3L94.4 114.9L97.0 118.1L99.9 120.9L103.0 123.2L106.3 125.0L109.8 126.4L113.5 127.2L117.5 127.5L122.3 127.2L126.1 126.5L129.5 125.3L132.7 123.6L135.5 121.4L138.1 118.8L140.4 115.8L142.3 112.4L143.9 108.5L145.1 104.3L146.0 99.7Z" fill="#b0ff4f"/>
<path d="M146.2 93.8L146.2 88.1L145.7 83.5L144.8 79.3L143.4 75.6L141.5 72.2L139.2 69.2L136.5 66.7L133.3 64.6L129.8 62.9L125.8 61.7L121.4 61.0L115.9 60.7L111.3 61.0L107.1 61.8L103.2 63.1L99.7 64.9L96.5 67.2L93.8 70.0L91.5 73.1L89.6 76.6L88.3 80.5L87.5 84.6L87.2 89.0L87.4 93.8L88.1 98.6L89.3 103.0L90.8 107.2L92.7 111.0L94.9 114.5L97.5 117.7L100.3 120.4L103.4 122.7L106.7 124.5L110.1 125.8L113.7 126.6L117.7 126.9L122.4 126.7L126.1 125.9L129.5 124.7L132.6 123.1L135.4 120.9L138.0 118.4L140.2 115.4L142.1 112.0L143.7 108.3L144.9 104.2L145.7 99.5Z" fill="#bbff44"/>
<path d="M145.9 93.8L145.9 88.1L145.4 83.6L144.5 79.5L143.1 75.9L141.3 72.5L139.0 69.6L136.3 67.1L133.2 65.0L129.7 63.4L125.8 62.2L121.5 61.5L116.0 61.2L111.5 61.5L107.4 62.3L103.6 63.6L100.1 65.4L97.0 67.6L94.3 70.3L92.0 73.4L90.2 76.9L88.9 80.7L88.1 84.7L87.8 89.0L88.0 93.8L88.7 98.5L89.8 102.8L91.3 106.9L93.2 110.7L95.4 114.1L98.0 117.2L100.7 119.9L103.8 122.2L107.0 124.0L110.4 125.3L114.0 126.1L117.8 126.4L122.4 126.1L126.1 125.4L129.5 124.2L132.5 122.6L135.3 120.5L137.8 118.0L140.0 115.0L141.9 111.7L143.4 108.0L144.6 104.0L145.4 99.4Z" fill="#c5ff3a"/>
<path d="M145.6 93.8L145.6 88.2L145.1 83.8L144.2 79.8L142.9 76.1L141.1 72.9L138.8 70.0L136.1 67.5L133.1 65.5L129.6 63.8L125.8 62.7L121.5 62.0L116.2 61.7L111.7 62.0L107.7 62.8L103.9 64.0L100.5 65.8L97.4 68.0L94.8 70.7L92.5 73.7L90.7 77.2L89.5 80.9L88.7 84.9L88.4 89.1L88.6 93.8L89.3 98.4L90.4 102.7L91.9 106.7L93.7 110.4L95.9 113.8L98.4 116.8L101.2 119.5L104.1 121.7L107.3 123.5L110.7 124.8L114.2 125.5L118.0 125.8L122.5 125.6L126.2 124.9L129.4 123.7L132.4 122.1L135.2 120.0L137.6 117.5L139.8 114.7L141.6 111.4L143.2 107.8L144.3 103.8L145.1 99.3Z" fill="#d0ff2f"/>
<path d="M145.3 93.7L145.3 88.3L144.8 83.9L143.9 80.0L142.6 76.4L140.8 73.2L138.6 70.4L136.0 67.9L133.0 65.9L129.6 64.3L125.8 63.2L121.6 62.5L116.3 62.2L112.0 62.5L108.0 63.3L104.3 64.5L100.9 66.3L97.9 68.4L95.2 71.1L93.0 74.1L91.3 77.4L90.0 81.1L89.3 85.0L89.0 89.2L89.2 93.7L89.9 98.3L91.0 102.5L92.4 106.4L94.3 110.1L96.4 113.4L98.9 116.4L101.6 119.0L104.5 121.2L107.6 123.0L110.9 124.2L114.4 125.0L118.1 125.2L122.6 125.0L126.2 124.3L129.4 123.2L132.4 121.6L135.1 119.5L137.5 117.1L139.6 114.3L141.4 111.1L142.9 107.5L144.0 103.6L144.8 99.2Z" fill="#dbff24"/>
<path d="M145.0 93.7L145.0 88.4L144.5 84.0L143.7 80.2L142.3 76.7L140.6 73.5L138.4 70.7L135.8 68.3L132.8 66.3L129.5 64.8L125.8 63.6L121.6 63.0L116.5 62.7L112.2 63.0L108.3 63.7L104.6 65.0L101.3 66.7L98.3 68.9L95.7 71.4L93.6 74.4L91.9 77.7L90.6 81.3L89.8 85.1L89.6 89.2L89.8 93.7L90.5 98.2L91.5 102.3L93.0 106.1L94.8 109.7L96.9 113.0L99.3 116.0L102.0 118.6L104.9 120.7L108.0 122.4L111.2 123.7L114.6 124.4L118.3 124.7L122.7 124.5L126.2 123.8L129.4 122.6L132.3 121.1L134.9 119.1L137.3 116.7L139.4 113.9L141.2 110.8L142.6 107.2L143.8 103.4L144.5 99.1Z" fill="#e5ff1a"/>
<path d="M144.7 93.7L144.7 88.4L144.3 84.2L143.4 80.4L142.1 76.9L140.3 73.8L138.2 71.1L135.6 68.7L132.7 66.8L129.4 65.2L125.8 64.1L121.7 63.5L116.6 63.2L112.4 63.5L108.6 64.2L105.0 65.4L101.7 67.1L98.8 69.3L96.2 71.8L94.1 74.7L92.4 77.9L91.2 81.5L90.4 85.3L90.2 89.3L90.4 93.7L91.0 98.1L92.1 102.1L93.5 105.9L95.3 109.4L97.4 112.7L99.8 115.6L102.4 118.1L105.2 120.2L108.3 121.9L111.5 123.1L114.8 123.9L118.4 124.1L122.7 123.9L126.2 123.2L129.3 122.1L132.2 120.6L134.8 118.6L137.1 116.3L139.2 113.5L140.9 110.4L142.4 107.0L143.5 103.2L144.3 98.9Z" fill="#f0ff0f"/>
<path d="M144.4 93.7L144.4 88.5L144.0 84.3L143.1 80.6L141.8 77.2L140.1 74.2L138.0 71.5L135.5 69.1L132.6 67.2L129.4 65.7L125.8 64.6L121.8 64.0L116.8 63.7L112.6 64.0L108.8 64.7L105.3 65.9L102.1 67.6L99.2 69.7L96.7 72.1L94.6 75.0L92.9 78.2L91.7 81.7L91.0 85.4L90.7 89.4L91.0 93.7L91.6 98.0L92.6 101.9L94.0 105.6L95.8 109.1L97.9 112.3L100.2 115.2L102.8 117.7L105.6 119.8L108.6 121.4L111.7 122.6L115.0 123.3L118.6 123.6L122.8 123.4L126.2 122.7L129.3 121.6L132.1 120.1L134.7 118.2L137.0 115.9L139.0 113.2L140.7 110.1L142.1 106.7L143.2 103.0L144.0 98.8Z" fill="#fbff04"/>
<path d="M144.1 93.6L144.1 88.6L143.7 84.5L142.8 80.8L141.5 77.5L139.9 74.5L137.8 71.8L135.3 69.5L132.5 67.7L129.3 66.2L125.8 65.1L121.8 64.4L116.9 64.2L112.8 64.5L109.1 65.2L105.7 66.4L102.5 68.0L99.7 70.1L97.2 72.5L95.1 75.3L93.5 78.5L92.3 81.9L91.6 85.5L91.3 89.4L91.5 93.6L92.2 97.9L93.2 101.7L94.6 105.4L96.3 108.8L98.3 112.0L100.7 114.8L103.2 117.2L106.0 119.3L108.9 120.9L112.0 122.1L115.2 122.8L118.7 123.0L122.9 122.8L126.2 122.2L129.3 121.1L132.0 119.6L134.5 117.7L136.8 115.4L138.8 112.8L140.5 109.8L141.9 106.5L142.9 102.8L143.7 98.7Z" fill="#fff900"/>
<path d="M143.8 93.6L143.8 88.6L143.4 84.6L142.5 81.0L141.3 77.7L139.6 74.8L137.6 72.2L135.1 69.9L132.4 68.1L129.2 66.6L125.7 65.6L121.9 64.9L117.0 64.7L113.0 65.0L109.4 65.7L106.0 66.8L102.9 68.4L100.1 70.4L97.7 72.9L95.6 75.6L94.0 78.7L92.8 82.1L92.1 85.7L91.9 89.5L92.1 93.6L92.7 97.7L93.7 101.6L95.1 105.2L96.8 108.5L98.8 111.6L101.1 114.4L103.6 116.8L106.3 118.8L109.2 120.4L112.2 121.6L115.4 122.3L118.8 122.5L122.9 122.3L126.2 121.6L129.2 120.6L131.9 119.1L134.4 117.3L136.6 115.0L138.6 112.4L140.3 109.5L141.6 106.2L142.7 102.6L143.4 98.6Z" fill="#ffee00"/>
<path d="M143.5 93.6L143.5 88.7L143.1 84.7L142.2 81.2L141.0 78.0L139.4 75.1L137.4 72.5L135.0 70.3L132.2 68.5L129.1 67.1L125.7 66.0L121.9 65.4L117.2 65.2L113.3 65.4L109.7 66.1L106.3 67.3L103.3 68.9L100.5 70.8L98.1 73.2L96.1 75.9L94.5 79.0L93.4 82.3L92.7 85.8L92.4 89.5L92.7 93.6L93.3 97.6L94.3 101.4L95.6 104.9L97.3 108.2L99.3 111.2L101.5 114.0L104.0 116.3L106.7 118.3L109.5 119.9L112.5 121.0L115.6 121.7L119.0 122.0L123.0 121.8L126.2 121.1L129.2 120.1L131.8 118.7L134.3 116.8L136.5 114.6L138.4 112.1L140.0 109.2L141.4 106.0L142.4 102.4L143.1 98.5Z" fill="#ffe300"/>
<path d="M143.2 93.6L143.2 88.7L142.8 84.9L141.9 81.4L140.7 78.2L139.1 75.4L137.1 72.9L134.8 70.7L132.1 68.9L129.1 67.5L125.7 66.5L122.0 65.9L117.3 65.7L113.5 65.9L109.9 66.6L106.7 67.7L103.6 69.3L100.9 71.2L98.6 73.6L96.6 76.2L95.1 79.2L93.9 82.4L93.3 85.9L93.0 89.6L93.2 93.6L93.8 97.5L94.8 101.2L96.1 104.7L97.8 107.9L99.7 110.9L101.9 113.6L104.4 115.9L107.0 117.8L109.8 119.4L112.7 120.5L115.8 121.2L119.1 121.4L123.1 121.2L126.2 120.6L129.1 119.6L131.7 118.2L134.1 116.4L136.3 114.2L138.2 111.7L139.8 108.9L141.1 105.7L142.1 102.2L142.8 98.4Z" fill="#ffd900"/>
<path d="M142.9 93.5L142.9 88.8L142.5 85.0L141.6 81.6L140.5 78.5L138.9 75.7L136.9 73.2L134.6 71.1L132.0 69.4L129.0 68.0L125.7 67.0L122.0 66.4L117.4 66.2L113.7 66.4L110.2 67.1L107.0 68.2L104.0 69.7L101.4 71.6L99.1 73.9L97.1 76.5L95.6 79.5L94.5 82.6L93.8 86.0L93.6 89.6L93.8 93.5L94.4 97.4L95.3 101.0L96.6 104.4L98.3 107.6L100.2 110.5L102.4 113.2L104.8 115.4L107.3 117.4L110.1 118.9L113.0 120.0L116.0 120.7L119.2 120.9L123.1 120.7L126.2 120.1L129.1 119.1L131.6 117.7L134.0 115.9L136.1 113.8L138.0 111.4L139.5 108.6L140.8 105.5L141.8 102.1L142.5 98.3Z" fill="#ffce00"/>
<path d="M142.5 93.5L142.5 88.9L142.1 85.2L141.3 81.8L140.2 78.8L138.6 76.0L136.7 73.6L134.4 71.5L131.8 69.8L128.9 68.4L125.7 67.5L122.0 66.9L117.5 66.7L113.9 66.9L110.5 67.5L107.3 68.6L104.4 70.1L101.8 72.0L99.5 74.3L97.6 76.8L96.1 79.7L95.0 82.8L94.4 86.2L94.1 89.7L94.3 93.5L94.9 97.3L95.9 100.8L97.2 104.2L98.8 107.3L100.6 110.2L102.8 112.8L105.1 115.0L107.7 116.9L110.4 118.4L113.2 119.5L116.2 120.1L119.3 120.3L123.2 120.1L126.2 119.6L129.0 118.6L131.5 117.2L133.8 115.5L135.9 113.4L137.7 111.0L139.3 108.3L140.6 105.2L141.5 101.9L142.2 98.1Z" fill="#ffc300"/>
<path d="M142.2 93.5L142.2 88.9L141.8 85.3L141.0 82.0L139.9 79.0L138.4 76.3L136.5 74.0L134.3 71.9L131.7 70.2L128.8 68.9L125.6 67.9L122.1 67.4L117.7 67.2L114.1 67.4L110.7 68.0L107.6 69.1L104.8 70.6L102.2 72.4L100.0 74.6L98.1 77.1L96.6 80.0L95.6 83.0L94.9 86.3L94.7 89.8L94.9 93.5L95.5 97.2L96.4 100.7L97.7 103.9L99.3 107.0L101.1 109.8L103.2 112.3L105.5 114.6L108.0 116.4L110.7 117.9L113.5 118.9L116.4 119.6L119.4 119.8L123.2 119.6L126.2 119.0L128.9 118.1L131.4 116.7L133.7 115.0L135.7 113.0L137.5 110.6L139.0 107.9L140.3 105.0L141.2 101.7L141.9 98.0Z" fill="#ffb900"/>
<path d="M141.9 93.5L141.9 89.0L141.5 85.4L140.7 82.2L139.6 79.3L138.1 76.7L136.2 74.3L134.1 72.3L131.6 70.7L128.7 69.4L125.6 68.4L122.1 67.9L117.8 67.7L114.3 67.9L111.0 68.5L108.0 69.6L105.2 71.0L102.6 72.8L100.4 75.0L98.6 77.5L97.2 80.2L96.1 83.2L95.5 86.4L95.3 89.8L95.5 93.5L96.0 97.1L96.9 100.5L98.2 103.7L99.7 106.7L101.6 109.5L103.6 111.9L105.9 114.1L108.4 115.9L111.0 117.4L113.7 118.4L116.5 119.0L119.6 119.3L123.2 119.1L126.2 118.5L128.9 117.5L131.3 116.2L133.5 114.6L135.5 112.6L137.3 110.3L138.8 107.6L140.0 104.7L140.9 101.5L141.6 97.9Z" fill="#ffae00"/>
<path d="M141.6 93.4L141.5 89.1L141.2 85.6L140.4 82.4L139.3 79.5L137.8 77.0L136.0 74.7L133.9 72.7L131.4 71.1L128.6 69.8L125.6 68.9L122.1 68.4L117.9 68.2L114.5 68.4L111.3 69.0L108.3 70.0L105.5 71.4L103.1 73.2L100.9 75.3L99.1 77.8L97.7 80.5L96.7 83.4L96.1 86.6L95.8 89.9L96.0 93.4L96.6 97.0L97.5 100.3L98.7 103.4L100.2 106.4L102.0 109.1L104.0 111.5L106.3 113.6L108.7 115.4L111.2 116.8L113.9 117.9L116.7 118.5L119.7 118.7L123.3 118.5L126.2 118.0L128.8 117.0L131.2 115.7L133.4 114.1L135.3 112.2L137.0 109.9L138.5 107.3L139.7 104.5L140.6 101.3L141.2 97.8Z" fill="#ffa300"/>
<path d="M141.2 93.4L141.2 89.1L140.8 85.7L140.1 82.6L139.0 79.8L137.5 77.3L135.8 75.1L133.7 73.2L131.2 71.6L128.5 70.3L125.5 69.4L122.2 68.9L118.0 68.7L114.7 68.9L111.5 69.5L108.6 70.5L105.9 71.9L103.5 73.6L101.4 75.7L99.6 78.1L98.2 80.7L97.2 83.6L96.6 86.7L96.4 89.9L96.6 93.4L97.1 96.9L98.0 100.1L99.2 103.2L100.7 106.1L102.5 108.7L104.5 111.1L106.7 113.2L109.0 114.9L111.5 116.3L114.2 117.3L116.9 117.9L119.8 118.1L123.3 118.0L126.1 117.4L128.7 116.5L131.1 115.2L133.2 113.7L135.1 111.7L136.8 109.5L138.2 107.0L139.4 104.2L140.3 101.1L140.9 97.7Z" fill="#ff9900"/>
<path d="M140.8 93.4L140.8 89.2L140.5 85.9L139.7 82.8L138.7 80.1L137.3 77.6L135.5 75.4L133.4 73.6L131.1 72.0L128.4 70.8L125.5 69.9L122.2 69.4L118.1 69.2L114.8 69.4L111.8 70.0L108.9 71.0L106.3 72.3L103.9 74.0L101.9 76.1L100.1 78.4L98.8 81.0L97.8 83.8L97.2 86.8L97.0 90.0L97.2 93.4L97.7 96.8L98.6 99.9L99.8 102.9L101.2 105.8L102.9 108.4L104.9 110.7L107.0 112.7L109.4 114.4L111.8 115.8L114.4 116.8L117.1 117.4L119.9 117.6L123.3 117.4L126.1 116.9L128.6 116.0L130.9 114.7L133.0 113.2L134.9 111.3L136.5 109.1L137.9 106.7L139.1 103.9L139.9 100.9L140.5 97.5Z" fill="#ff8e00"/>
<path d="M140.5 93.4L140.5 89.3L140.1 86.0L139.4 83.0L138.3 80.4L137.0 78.0L135.3 75.8L133.2 74.0L130.9 72.5L128.3 71.3L125.4 70.4L122.2 69.9L118.3 69.7L115.0 69.9L112.1 70.5L109.3 71.5L106.7 72.8L104.4 74.5L102.3 76.4L100.7 78.7L99.3 81.3L98.4 84.0L97.8 87.0L97.6 90.1L97.7 93.4L98.3 96.7L99.1 99.8L100.3 102.7L101.7 105.5L103.4 108.0L105.3 110.3L107.4 112.3L109.7 113.9L112.1 115.3L114.6 116.2L117.2 116.8L120.0 117.0L123.4 116.8L126.1 116.3L128.5 115.4L130.8 114.2L132.8 112.7L134.7 110.9L136.3 108.8L137.6 106.3L138.8 103.7L139.6 100.7L140.2 97.4Z" fill="#ff8400"/>
<path d="M140.1 93.3L140.1 89.4L139.7 86.2L139.0 83.3L138.0 80.6L136.7 78.3L135.0 76.2L133.0 74.4L130.8 72.9L128.2 71.8L125.4 70.9L122.3 70.4L118.4 70.2L115.2 70.4L112.3 71.0L109.6 71.9L107.1 73.2L104.8 74.9L102.8 76.8L101.2 79.0L99.9 81.5L98.9 84.2L98.4 87.1L98.2 90.1L98.3 93.3L98.9 96.5L99.7 99.6L100.8 102.4L102.2 105.1L103.9 107.6L105.8 109.8L107.8 111.8L110.0 113.4L112.4 114.7L114.8 115.7L117.4 116.2L120.1 116.4L123.4 116.3L126.0 115.7L128.4 114.9L130.6 113.7L132.6 112.2L134.4 110.4L136.0 108.4L137.3 106.0L138.4 103.4L139.3 100.5L139.8 97.3Z" fill="#ff7900"/>
<path d="M139.7 93.3L139.7 89.4L139.4 86.3L138.7 83.5L137.7 80.9L136.4 78.6L134.7 76.6L132.8 74.9L130.6 73.4L128.1 72.3L125.3 71.4L122.3 70.9L118.5 70.8L115.4 71.0L112.6 71.5L109.9 72.4L107.5 73.7L105.2 75.3L103.3 77.2L101.7 79.4L100.4 81.8L99.5 84.4L98.9 87.2L98.8 90.2L98.9 93.3L99.4 96.4L100.3 99.4L101.4 102.2L102.7 104.8L104.4 107.2L106.2 109.4L108.2 111.3L110.4 112.9L112.7 114.2L115.1 115.1L117.6 115.7L120.2 115.8L123.4 115.7L126.0 115.2L128.4 114.3L130.5 113.2L132.4 111.8L134.2 110.0L135.7 108.0L137.0 105.7L138.1 103.1L138.9 100.3L139.5 97.2Z" fill="#ff6e00"/>
<path d="M139.4 93.3L139.3 89.5L139.0 86.5L138.3 83.7L137.4 81.2L136.1 79.0L134.5 77.0L132.6 75.3L130.4 73.9L128.0 72.8L125.3 72.0L122.3 71.5L118.6 71.3L115.6 71.5L112.9 72.0L110.3 72.9L107.8 74.2L105.7 75.7L103.8 77.6L102.2 79.7L101.0 82.1L100.1 84.6L99.5 87.4L99.4 90.2L99.5 93.3L100.0 96.3L100.8 99.2L101.9 101.9L103.3 104.5L104.8 106.9L106.6 109.0L108.6 110.8L110.7 112.4L113.0 113.6L115.3 114.5L117.7 115.1L120.3 115.3L123.4 115.1L126.0 114.6L128.3 113.8L130.3 112.7L132.2 111.3L134.0 109.6L135.4 107.6L136.7 105.3L137.8 102.9L138.6 100.1L139.1 97.1Z" fill="#ff6400"/>
<path d="M139.0 93.3L139.0 89.6L138.6 86.6L138.0 83.9L137.0 81.5L135.8 79.3L134.2 77.4L132.4 75.7L130.3 74.4L127.9 73.3L125.3 72.5L122.3 72.0L118.7 71.8L115.8 72.0L113.1 72.6L110.6 73.4L108.3 74.6L106.1 76.2L104.3 78.0L102.8 80.0L101.6 82.3L100.7 84.8L100.2 87.5L100.0 90.3L100.1 93.3L100.6 96.2L101.4 99.0L102.5 101.7L103.8 104.2L105.3 106.5L107.1 108.5L109.0 110.3L111.1 111.9L113.3 113.1L115.5 113.9L117.9 114.5L120.4 114.7L123.5 114.5L125.9 114.0L128.2 113.2L130.2 112.2L132.1 110.8L133.7 109.1L135.2 107.2L136.4 105.0L137.4 102.6L138.2 99.9L138.7 96.9Z" fill="#ff5900"/>
<path d="M138.6 93.2L138.6 89.7L138.2 86.8L137.6 84.2L136.7 81.8L135.4 79.7L133.9 77.8L132.1 76.2L130.1 74.8L127.8 73.8L125.2 73.0L122.4 72.6L118.9 72.4L116.1 72.6L113.4 73.1L110.9 73.9L108.7 75.1L106.6 76.6L104.8 78.4L103.3 80.4L102.1 82.6L101.3 85.0L100.8 87.6L100.6 90.4L100.8 93.2L101.2 96.1L102.0 98.8L103.0 101.4L104.3 103.8L105.8 106.1L107.5 108.1L109.4 109.9L111.4 111.3L113.6 112.5L115.8 113.4L118.1 113.9L120.5 114.1L123.5 113.9L125.9 113.4L128.1 112.7L130.1 111.6L131.9 110.3L133.5 108.7L134.9 106.8L136.1 104.7L137.1 102.3L137.8 99.7L138.3 96.8Z" fill="#ff4e00"/>
<path d="M138.2 93.2L138.2 89.7L137.9 86.9L137.3 84.4L136.3 82.1L135.1 80.0L133.7 78.2L131.9 76.6L129.9 75.3L127.7 74.3L125.2 73.5L122.4 73.1L119.0 73.0L116.3 73.1L113.7 73.6L111.3 74.5L109.1 75.6L107.1 77.0L105.3 78.8L103.9 80.7L102.7 82.9L101.9 85.3L101.4 87.8L101.2 90.4L101.4 93.2L101.9 96.0L102.6 98.6L103.6 101.1L104.9 103.5L106.3 105.7L108.0 107.7L109.8 109.4L111.8 110.8L113.9 112.0L116.0 112.8L118.3 113.3L120.6 113.5L123.5 113.3L125.9 112.9L128.0 112.1L129.9 111.1L131.7 109.8L133.2 108.2L134.6 106.4L135.8 104.3L136.8 102.0L137.5 99.5L138.0 96.7Z" fill="#ff4400"/>
<path d="M137.8 93.2L137.8 89.8L137.5 87.1L136.9 84.6L136.0 82.4L134.8 80.4L133.4 78.6L131.7 77.1L129.8 75.8L127.6 74.8L125.2 74.1L122.5 73.7L119.1 73.5L116.5 73.7L114.0 74.2L111.7 75.0L109.5 76.1L107.6 77.5L105.9 79.2L104.5 81.1L103.3 83.2L102.5 85.5L102.0 87.9L101.9 90.5L102.0 93.2L102.5 95.9L103.2 98.4L104.2 100.9L105.4 103.2L106.8 105.3L108.5 107.2L110.2 108.9L112.1 110.3L114.2 111.4L116.3 112.2L118.5 112.7L120.7 112.8L123.5 112.7L125.8 112.3L127.9 111.5L129.8 110.5L131.5 109.3L133.0 107.7L134.3 106.0L135.5 104.0L136.4 101.7L137.1 99.3L137.6 96.6Z" fill="#ff3900"/>
<path d="M137.4 93.2L137.4 89.9L137.1 87.2L136.5 84.9L135.7 82.7L134.5 80.7L133.1 79.0L131.5 77.5L129.6 76.3L127.5 75.3L125.1 74.6L122.5 74.2L119.3 74.1L116.7 74.2L114.3 74.7L112.0 75.5L109.9 76.6L108.1 77.9L106.4 79.6L105.0 81.4L104.0 83.5L103.2 85.7L102.7 88.1L102.5 90.5L102.7 93.2L103.1 95.8L103.8 98.2L104.8 100.6L106.0 102.8L107.4 104.9L108.9 106.7L110.7 108.4L112.5 109.7L114.5 110.8L116.5 111.6L118.6 112.1L120.8 112.2L123.6 112.1L125.8 111.7L127.8 111.0L129.6 110.0L131.3 108.8L132.8 107.3L134.1 105.6L135.2 103.6L136.1 101.5L136.8 99.1L137.2 96.4Z" fill="#ff2e00"/>
<path d="M137.1 93.1L137.0 90.0L136.7 87.4L136.2 85.1L135.3 83.0L134.2 81.1L132.9 79.5L131.3 78.0L129.4 76.8L127.4 75.9L125.1 75.2L122.6 74.8L119.4 74.7L117.0 74.8L114.6 75.3L112.4 76.0L110.4 77.1L108.6 78.4L107.0 80.0L105.6 81.8L104.6 83.8L103.8 85.9L103.4 88.2L103.2 90.6L103.4 93.1L103.8 95.6L104.5 98.0L105.4 100.3L106.6 102.5L107.9 104.5L109.4 106.3L111.1 107.9L112.9 109.2L114.8 110.2L116.8 111.0L118.8 111.4L121.0 111.6L123.6 111.5L125.8 111.0L127.7 110.4L129.5 109.4L131.1 108.2L132.5 106.8L133.8 105.1L134.8 103.3L135.7 101.2L136.4 98.9L136.8 96.3Z" fill="#ff2400"/>
<path d="M136.7 93.1L136.6 90.0L136.3 87.6L135.8 85.3L135.0 83.3L133.9 81.5L132.6 79.9L131.0 78.5L129.3 77.3L127.3 76.4L125.1 75.8L122.6 75.4L119.6 75.3L117.2 75.4L115.0 75.8L112.8 76.6L110.9 77.6L109.1 78.9L107.6 80.4L106.3 82.1L105.3 84.0L104.5 86.1L104.1 88.4L103.9 90.7L104.1 93.1L104.5 95.5L105.1 97.9L106.0 100.1L107.2 102.2L108.5 104.1L109.9 105.8L111.6 107.3L113.3 108.6L115.2 109.6L117.1 110.4L119.1 110.8L121.1 110.9L123.7 110.8L125.7 110.4L127.6 109.8L129.3 108.9L130.9 107.7L132.3 106.3L133.5 104.7L134.5 102.9L135.4 100.9L136.0 98.6L136.4 96.2Z" fill="#ff1900"/>
<path d="M136.3 93.1L136.2 90.1L136.0 87.7L135.4 85.6L134.6 83.6L133.6 81.9L132.3 80.3L130.8 79.0L129.1 77.9L127.2 77.0L125.1 76.4L122.7 76.0L119.8 75.9L117.5 76.0L115.3 76.4L113.3 77.1L111.4 78.1L109.7 79.4L108.2 80.8L106.9 82.5L105.9 84.4L105.2 86.4L104.8 88.5L104.6 90.7L104.8 93.1L105.2 95.4L105.8 97.7L106.7 99.8L107.8 101.8L109.0 103.7L110.5 105.3L112.0 106.8L113.7 108.0L115.5 109.0L117.4 109.7L119.3 110.1L121.2 110.3L123.7 110.2L125.7 109.8L127.5 109.2L129.2 108.3L130.7 107.2L132.0 105.8L133.2 104.3L134.2 102.5L135.0 100.6L135.6 98.4L136.1 96.0Z" fill="#ff0e00"/>
<path d="M135.9 93.1L135.8 90.2L135.6 87.9L135.0 85.8L134.3 84.0L133.3 82.3L132.1 80.8L130.6 79.5L129.0 78.4L127.1 77.6L125.1 77.0L122.8 76.6L120.0 76.5L117.8 76.6L115.7 77.0L113.7 77.7L111.9 78.7L110.2 79.8L108.8 81.3L107.6 82.9L106.6 84.7L105.9 86.6L105.5 88.7L105.4 90.8L105.5 93.1L105.9 95.3L106.5 97.4L107.4 99.5L108.4 101.4L109.6 103.2L111.0 104.8L112.5 106.3L114.2 107.4L115.9 108.4L117.7 109.1L119.5 109.5L121.4 109.6L123.8 109.5L125.7 109.1L127.5 108.5L129.0 107.7L130.5 106.6L131.8 105.3L132.9 103.8L133.9 102.1L134.7 100.3L135.3 98.2L135.7 95.9Z" fill="#ff0400"/>
<path d="M135.4 93.0L135.4 90.3L135.1 88.1L134.6 86.1L133.9 84.3L133.0 82.7L131.8 81.2L130.4 80.0L128.8 79.0L127.0 78.2L125.1 77.6L122.9 77.2L120.2 77.1L118.1 77.3L116.0 77.7L114.1 78.3L112.4 79.2L110.8 80.4L109.4 81.7L108.3 83.3L107.4 85.0L106.7 86.8L106.3 88.8L106.2 90.9L106.3 93.0L106.7 95.2L107.3 97.2L108.1 99.2L109.1 101.1L110.3 102.8L111.6 104.3L113.0 105.7L114.6 106.8L116.3 107.7L118.0 108.4L119.7 108.8L121.6 108.9L123.8 108.8L125.7 108.5L127.4 107.9L128.9 107.1L130.3 106.0L131.5 104.8L132.6 103.4L133.5 101.7L134.3 99.9L134.9 98.0L135.3 95.7Z" fill="#f80000"/>
<path d="M135.0 93.0L135.0 90.4L134.7 88.3L134.2 86.4L133.5 84.7L132.6 83.1L131.5 81.7L130.2 80.6L128.7 79.6L127.0 78.8L125.1 78.2L123.0 77.9L120.4 77.8L118.4 77.9L116.4 78.3L114.6 78.9L112.9 79.8L111.4 80.9L110.1 82.2L109.0 83.7L108.1 85.3L107.5 87.1L107.1 89.0L107.0 90.9L107.1 93.0L107.5 95.1L108.0 97.0L108.8 98.9L109.8 100.7L110.9 102.3L112.2 103.8L113.6 105.1L115.1 106.2L116.7 107.1L118.3 107.7L120.0 108.1L121.7 108.2L123.9 108.1L125.7 107.8L127.3 107.2L128.8 106.4L130.1 105.4L131.3 104.3L132.3 102.9L133.2 101.3L133.9 99.6L134.5 97.7L134.8 95.6Z" fill="#ed0000"/>
<path d="M134.6 93.0L134.5 90.5L134.3 88.5L133.8 86.7L133.2 85.0L132.3 83.5L131.2 82.2L129.9 81.1L128.5 80.2L126.9 79.4L125.1 78.9L123.1 78.6L120.6 78.5L118.7 78.6L116.8 79.0L115.1 79.6L113.5 80.4L112.1 81.4L110.8 82.7L109.7 84.1L108.9 85.7L108.3 87.3L107.9 89.1L107.8 91.0L107.9 93.0L108.3 94.9L108.8 96.8L109.6 98.6L110.5 100.3L111.6 101.9L112.8 103.3L114.1 104.5L115.6 105.6L117.1 106.4L118.6 107.0L120.2 107.4L121.9 107.5L124.0 107.4L125.7 107.0L127.2 106.5L128.6 105.8L129.9 104.8L131.0 103.7L132.0 102.4L132.8 100.9L133.5 99.3L134.0 97.5L134.4 95.5Z" fill="#e30000"/>
<path d="M134.1 92.9L134.1 90.6L133.8 88.7L133.4 87.0L132.8 85.4L131.9 84.0L130.9 82.8L129.7 81.7L128.3 80.8L126.8 80.1L125.1 79.6L123.2 79.3L120.8 79.2L119.0 79.3L117.3 79.7L115.6 80.2L114.1 81.0L112.7 82.0L111.5 83.2L110.5 84.5L109.7 86.0L109.2 87.6L108.8 89.3L108.7 91.1L108.8 92.9L109.1 94.8L109.7 96.6L110.4 98.3L111.2 99.9L112.3 101.4L113.4 102.7L114.7 103.9L116.1 104.9L117.5 105.7L119.0 106.2L120.5 106.6L122.1 106.7L124.1 106.6L125.7 106.3L127.1 105.8L128.4 105.1L129.6 104.2L130.7 103.1L131.7 101.9L132.5 100.5L133.1 98.9L133.6 97.2L133.9 95.3Z" fill="#d80000"/>
<path d="M133.6 92.9L133.6 90.7L133.3 88.9L132.9 87.3L132.3 85.8L131.5 84.5L130.6 83.3L129.4 82.3L128.1 81.5L126.7 80.8L125.1 80.3L123.3 80.1L121.1 80.0L119.4 80.1L117.7 80.4L116.2 80.9L114.7 81.7L113.4 82.6L112.3 83.7L111.4 85.0L110.6 86.4L110.1 87.9L109.7 89.5L109.6 91.2L109.7 92.9L110.0 94.7L110.5 96.3L111.2 97.9L112.0 99.5L113.0 100.9L114.1 102.1L115.3 103.2L116.6 104.2L117.9 104.9L119.3 105.5L120.8 105.8L122.3 105.9L124.1 105.8L125.6 105.5L127.0 105.0L128.3 104.4L129.4 103.5L130.4 102.5L131.3 101.4L132.1 100.0L132.7 98.6L133.1 96.9L133.4 95.1Z" fill="#cd0000"/>
<path d="M133.1 92.9L133.0 90.8L132.8 89.1L132.4 87.6L131.9 86.2L131.1 85.0L130.2 83.9L129.2 83.0L127.9 82.2L126.6 81.6L125.1 81.1L123.4 80.8L121.3 80.8L119.7 80.9L118.2 81.2L116.7 81.7L115.4 82.4L114.2 83.2L113.1 84.3L112.2 85.5L111.5 86.8L111.0 88.2L110.7 89.7L110.6 91.3L110.7 92.9L111.0 94.5L111.4 96.1L112.1 97.6L112.8 99.0L113.8 100.3L114.8 101.5L115.9 102.6L117.1 103.4L118.4 104.1L119.7 104.6L121.1 104.9L122.4 105.0L124.2 105.0L125.6 104.7L126.9 104.2L128.1 103.6L129.1 102.8L130.1 101.9L130.9 100.8L131.6 99.6L132.2 98.2L132.6 96.7L132.9 95.0Z" fill="#c30000"/>
<path d="M132.5 92.9L132.5 90.9L132.3 89.4L131.9 88.0L131.4 86.7L130.7 85.5L129.8 84.5L128.9 83.6L127.7 82.9L126.4 82.3L125.0 81.9L123.5 81.7L121.6 81.6L120.1 81.7L118.6 82.0L117.3 82.4L116.0 83.1L114.9 83.9L113.9 84.9L113.1 86.0L112.4 87.2L112.0 88.5L111.7 89.9L111.6 91.4L111.7 92.9L111.9 94.4L112.4 95.8L113.0 97.2L113.7 98.6L114.5 99.8L115.5 100.9L116.5 101.8L117.7 102.7L118.8 103.3L120.1 103.8L121.3 104.1L122.6 104.2L124.2 104.1L125.6 103.8L126.8 103.4L127.8 102.8L128.8 102.1L129.7 101.2L130.5 100.2L131.1 99.1L131.7 97.8L132.1 96.4L132.4 94.8Z" fill="#b80000"/>
<path d="M131.9 92.8L131.8 91.1L131.7 89.6L131.3 88.3L130.8 87.2L130.2 86.1L129.4 85.2L128.5 84.4L127.5 83.7L126.3 83.1L125.0 82.8L123.6 82.5L121.8 82.5L120.4 82.5L119.1 82.8L117.9 83.2L116.7 83.8L115.7 84.6L114.7 85.5L114.0 86.5L113.4 87.6L113.0 88.8L112.7 90.1L112.6 91.5L112.7 92.8L112.9 94.2L113.3 95.6L113.9 96.9L114.5 98.1L115.3 99.2L116.2 100.2L117.2 101.1L118.2 101.9L119.3 102.5L120.4 102.9L121.6 103.1L122.8 103.2L124.3 103.2L125.5 102.9L126.6 102.5L127.6 102.0L128.5 101.3L129.3 100.5L130.0 99.6L130.6 98.5L131.1 97.4L131.5 96.1L131.7 94.6Z" fill="#ad0000"/>
<path d="M131.2 92.8L131.2 91.2L131.0 89.9L130.7 88.7L130.3 87.7L129.7 86.7L129.0 85.8L128.1 85.1L127.2 84.5L126.1 84.0L124.9 83.7L123.6 83.5L122.0 83.4L120.8 83.5L119.6 83.7L118.4 84.1L117.4 84.6L116.4 85.3L115.6 86.1L114.9 87.1L114.4 88.1L114.0 89.2L113.8 90.4L113.7 91.6L113.7 92.8L114.0 94.1L114.3 95.3L114.8 96.5L115.4 97.6L116.2 98.6L117.0 99.5L117.8 100.3L118.8 101.0L119.8 101.5L120.8 101.9L121.9 102.2L122.9 102.3L124.3 102.2L125.4 102.0L126.4 101.6L127.3 101.2L128.1 100.5L128.9 99.8L129.5 99.0L130.1 98.0L130.5 96.9L130.9 95.7L131.1 94.4Z" fill="#a30000"/>
<path d="M130.4 92.8L130.4 91.4L130.3 90.2L130.0 89.1L129.6 88.2L129.1 87.3L128.5 86.6L127.7 85.9L126.9 85.4L125.9 84.9L124.9 84.6L123.7 84.4L122.2 84.4L121.1 84.4L120.1 84.7L119.1 85.0L118.1 85.5L117.3 86.1L116.5 86.8L115.9 87.7L115.4 88.6L115.1 89.6L114.9 90.6L114.8 91.7L114.9 92.8L115.1 93.9L115.4 95.0L115.8 96.0L116.4 97.0L117.0 97.9L117.7 98.8L118.5 99.5L119.4 100.1L120.2 100.6L121.2 100.9L122.1 101.2L123.1 101.2L124.3 101.2L125.3 101.0L126.2 100.7L127.0 100.2L127.7 99.7L128.4 99.0L129.0 98.3L129.4 97.4L129.8 96.5L130.2 95.4L130.4 94.2Z" fill="#980000"/>
<path d="M129.6 92.8L129.6 91.5L129.5 90.5L129.2 89.6L128.9 88.8L128.4 88.0L127.9 87.3L127.2 86.8L126.5 86.3L125.7 85.9L124.7 85.7L123.7 85.5L122.5 85.4L121.5 85.5L120.6 85.7L119.7 86.0L118.9 86.4L118.2 87.0L117.5 87.6L117.0 88.3L116.5 89.1L116.2 90.0L116.1 90.9L116.0 91.8L116.1 92.8L116.2 93.7L116.5 94.7L116.9 95.6L117.4 96.4L117.9 97.2L118.6 98.0L119.2 98.6L120.0 99.1L120.8 99.5L121.6 99.9L122.4 100.0L123.2 100.1L124.3 100.0L125.1 99.9L125.9 99.6L126.6 99.2L127.2 98.8L127.8 98.2L128.3 97.5L128.8 96.8L129.1 96.0L129.4 95.0L129.5 94.0Z" fill="#8d0000"/>
<path d="M128.7 92.7L128.6 91.7L128.5 90.9L128.3 90.1L128.1 89.4L127.7 88.8L127.2 88.2L126.7 87.8L126.1 87.4L125.4 87.1L124.6 86.8L123.8 86.7L122.7 86.7L121.9 86.7L121.2 86.9L120.4 87.1L119.7 87.5L119.1 87.9L118.6 88.4L118.1 89.0L117.8 89.7L117.5 90.4L117.4 91.2L117.3 91.9L117.4 92.7L117.5 93.5L117.8 94.3L118.1 95.1L118.5 95.8L118.9 96.5L119.5 97.1L120.0 97.6L120.7 98.0L121.3 98.4L122.0 98.6L122.6 98.8L123.3 98.8L124.2 98.8L124.9 98.7L125.6 98.4L126.2 98.1L126.7 97.7L127.2 97.2L127.6 96.7L127.9 96.1L128.2 95.4L128.5 94.6L128.6 93.8Z" fill="#830000"/>
<path d="M127.4 92.7L127.4 92.0L127.3 91.3L127.1 90.8L126.9 90.3L126.6 89.8L126.3 89.4L125.9 89.0L125.4 88.7L124.9 88.5L124.4 88.3L123.7 88.2L123.0 88.2L122.4 88.3L121.8 88.4L121.3 88.6L120.8 88.8L120.3 89.1L119.9 89.5L119.6 90.0L119.3 90.5L119.1 91.0L119.0 91.6L119.0 92.1L119.0 92.7L119.1 93.3L119.3 93.9L119.5 94.4L119.8 95.0L120.2 95.5L120.6 95.9L121.0 96.3L121.4 96.6L121.9 96.9L122.4 97.1L122.9 97.2L123.4 97.2L124.1 97.2L124.6 97.1L125.1 96.9L125.5 96.7L125.9 96.4L126.3 96.1L126.6 95.6L126.8 95.2L127.0 94.7L127.2 94.1L127.3 93.5Z" fill="#800000"/>
<path d="M124.6 92.7L124.6 92.5L124.6 92.3L124.6 92.1L124.5 92.0L124.4 91.8L124.3 91.7L124.2 91.6L124.1 91.5L123.9 91.4L123.7 91.4L123.6 91.4L123.3 91.4L123.2 91.4L123.0 91.4L122.8 91.5L122.7 91.5L122.5 91.6L122.4 91.7L122.3 91.9L122.2 92.0L122.2 92.2L122.2 92.3L122.1 92.5L122.2 92.7L122.2 92.9L122.2 93.0L122.3 93.2L122.4 93.4L122.5 93.5L122.6 93.6L122.7 93.8L122.9 93.9L123.0 93.9L123.2 94.0L123.3 94.0L123.5 94.0L123.7 94.0L123.8 94.0L124.0 93.9L124.1 93.9L124.2 93.8L124.3 93.7L124.4 93.6L124.5 93.4L124.5 93.3L124.6 93.1L124.6 92.9Z" fill="#800000"/>
</g>
<g clip-path="url(#clipB)">
<rect x="36.4" y="245.6" width="155.4" height="155.70000000000002" fill="#00008f"/>
<ellipse cx="113.61" cy="323.45" rx="63.88" ry="65.80" fill="#000099"/>
<ellipse cx="113.61" cy="323.45" rx="61.15" ry="62.99" fill="#0000a4"/>
<ellipse cx="113.61" cy="323.45" rx="59.68" ry="61.47" fill="#0000ae"/>
<ellipse cx="113.61" cy="323.45" rx="58.54" ry="60.30" fill="#0000b9"/>
<ellipse cx="113.61" cy="323.45" rx="57.50" ry="59.26" fill="#0000c4"/>
<ellipse cx="113.61" cy="323.45" rx="56.52" ry="58.28" fill="#0000ce"/>
<ellipse cx="113.61" cy="323.45" rx="55.59" ry="57.35" fill="#0000d9"/>
<ellipse cx="113.61" cy="323.45" rx="54.68" ry="56.46" fill="#0000e4"/>
<ellipse cx="113.61" cy="323.45" rx="53.80" ry="55.60" fill="#0000ee"/>
<ellipse cx="113.61" cy="323.45" rx="52.94" ry="54.76" fill="#0000f9"/>
<ellipse cx="113.61" cy="323.45" rx="52.09" ry="53.93" fill="#0005ff"/>
<ellipse cx="113.61" cy="323.45" rx="51.27" ry="53.13" fill="#000fff"/>
<ellipse cx="113.61" cy="323.45" rx="50.46" ry="52.35" fill="#001aff"/>
<ellipse cx="113.61" cy="323.45" rx="49.67" ry="51.58" fill="#0025ff"/>
<ellipse cx="113.61" cy="323.45" rx="48.90" ry="50.84" fill="#002fff"/>
<ellipse cx="113.61" cy="323.45" rx="48.15" ry="50.11" fill="#003aff"/>
<ellipse cx="113.61" cy="323.45" rx="47.42" ry="49.39" fill="#0045ff"/>
<ellipse cx="113.61" cy="323.45" rx="46.69" ry="48.69" fill="#004fff"/>
<ellipse cx="113.61" cy="323.45" rx="45.98" ry="47.99" fill="#005aff"/>
<ellipse cx="113.61" cy="323.45" rx="45.27" ry="47.30" fill="#0065ff"/>
<ellipse cx="113.61" cy="323.45" rx="44.58" ry="46.61" fill="#006fff"/>
<ellipse cx="113.61" cy="323.45" rx="43.89" ry="45.94" fill="#007aff"/>
<ellipse cx="113.61" cy="323.45" rx="43.22" ry="45.27" fill="#0085ff"/>
<ellipse cx="113.61" cy="323.45" rx="42.56" ry="44.62" fill="#008fff"/>
<ellipse cx="113.61" cy="323.45" rx="41.92" ry="43.98" fill="#009aff"/>
<ellipse cx="113.61" cy="323.45" rx="41.30" ry="43.37" fill="#00a5ff"/>
<ellipse cx="113.61" cy="323.45" rx="40.71" ry="42.77" fill="#00afff"/>
<ellipse cx="113.61" cy="323.45" rx="40.15" ry="42.20" fill="#00baff"/>
<ellipse cx="113.61" cy="323.45" rx="39.61" ry="41.66" fill="#00c5ff"/>
<ellipse cx="113.61" cy="323.45" rx="39.10" ry="41.14" fill="#00cfff"/>
<ellipse cx="113.61" cy="323.45" rx="38.62" ry="40.65" fill="#00daff"/>
<ellipse cx="113.61" cy="323.45" rx="38.17" ry="40.17" fill="#00e5ff"/>
<ellipse cx="113.61" cy="323.45" rx="37.73" ry="39.72" fill="#00efff"/>
<ellipse cx="113.61" cy="323.45" rx="37.31" ry="39.27" fill="#00faff"/>
<ellipse cx="113.61" cy="323.45" rx="36.89" ry="38.84" fill="#06fff9"/>
<ellipse cx="113.61" cy="323.45" rx="36.48" ry="38.40" fill="#10ffef"/>
<ellipse cx="113.61" cy="323.45" rx="36.06" ry="37.97" fill="#1bffe4"/>
<ellipse cx="113.61" cy="323.45" rx="35.65" ry="37.53" fill="#26ffd9"/>
<ellipse cx="113.61" cy="323.45" rx="35.23" ry="37.09" fill="#30ffcf"/>
<ellipse cx="113.61" cy="323.45" rx="34.81" ry="36.64" fill="#3bffc4"/>
<ellipse cx="113.61" cy="323.45" rx="34.38" ry="36.20" fill="#46ffb9"/>
<ellipse cx="113.61" cy="323.45" rx="33.96" ry="35.75" fill="#50ffaf"/>
<ellipse cx="113.61" cy="323.45" rx="33.53" ry="35.30" fill="#5bffa4"/>
<ellipse cx="113.61" cy="323.45" rx="33.10" ry="34.84" fill="#66ff99"/>
<ellipse cx="113.61" cy="323.45" rx="32.67" ry="34.39" fill="#70ff8f"/>
<ellipse cx="113.61" cy="323.45" rx="32.23" ry="33.93" fill="#7bff84"/>
<ellipse cx="113.61" cy="323.45" rx="31.80" ry="33.48" fill="#85ff7a"/>
<ellipse cx="113.61" cy="323.45" rx="31.36" ry="33.02" fill="#90ff6f"/>
<ellipse cx="113.61" cy="323.45" rx="30.93" ry="32.56" fill="#9bff64"/>
<ellipse cx="113.61" cy="323.45" rx="30.49" ry="32.10" fill="#a5ff5a"/>
<ellipse cx="113.61" cy="323.45" rx="30.06" ry="31.64" fill="#b0ff4f"/>
<ellipse cx="113.61" cy="323.45" rx="29.62" ry="31.19" fill="#bbff44"/>
<ellipse cx="113.61" cy="323.45" rx="29.19" ry="30.73" fill="#c5ff3a"/>
<ellipse cx="113.61" cy="323.45" rx="28.76" ry="30.27" fill="#d0ff2f"/>
<ellipse cx="113.61" cy="323.45" rx="28.33" ry="29.82" fill="#dbff24"/>
<ellipse cx="113.61" cy="323.45" rx="27.90" ry="29.37" fill="#e5ff1a"/>
<ellipse cx="113.61" cy="323.45" rx="27.47" ry="28.92" fill="#f0ff0f"/>
<ellipse cx="113.61" cy="323.45" rx="27.05" ry="28.48" fill="#fbff04"/>
<ellipse cx="113.61" cy="323.45" rx="26.62" ry="28.03" fill="#fff900"/>
<ellipse cx="113.61" cy="323.45" rx="26.19" ry="27.58" fill="#ffee00"/>
<ellipse cx="113.61" cy="323.45" rx="25.76" ry="27.12" fill="#ffe300"/>
<ellipse cx="113.61" cy="323.45" rx="25.32" ry="26.66" fill="#ffd900"/>
<ellipse cx="113.61" cy="323.45" rx="24.88" ry="26.19" fill="#ffce00"/>
<ellipse cx="113.61" cy="323.45" rx="24.43" ry="25.72" fill="#ffc300"/>
<ellipse cx="113.61" cy="323.45" rx="23.97" ry="25.23" fill="#ffb900"/>
<ellipse cx="113.61" cy="323.45" rx="23.50" ry="24.74" fill="#ffae00"/>
<ellipse cx="113.61" cy="323.45" rx="23.02" ry="24.23" fill="#ffa300"/>
<ellipse cx="113.61" cy="323.45" rx="22.53" ry="23.72" fill="#ff9900"/>
<ellipse cx="113.61" cy="323.45" rx="22.03" ry="23.20" fill="#ff8e00"/>
<ellipse cx="113.61" cy="323.45" rx="21.53" ry="22.67" fill="#ff8300"/>
<ellipse cx="113.61" cy="323.45" rx="21.03" ry="22.14" fill="#ff7900"/>
<ellipse cx="113.61" cy="323.45" rx="20.52" ry="21.61" fill="#ff6e00"/>
<ellipse cx="113.61" cy="323.45" rx="20.02" ry="21.08" fill="#ff6300"/>
<ellipse cx="113.61" cy="323.45" rx="19.52" ry="20.55" fill="#ff5900"/>
<ellipse cx="113.61" cy="323.45" rx="19.01" ry="20.01" fill="#ff4e00"/>
<ellipse cx="113.61" cy="323.45" rx="18.50" ry="19.48" fill="#ff4300"/>
<ellipse cx="113.61" cy="323.45" rx="17.99" ry="18.94" fill="#ff3900"/>
<ellipse cx="113.61" cy="323.45" rx="17.48" ry="18.40" fill="#ff2e00"/>
<ellipse cx="113.61" cy="323.45" rx="16.96" ry="17.86" fill="#ff2300"/>
<ellipse cx="113.61" cy="323.45" rx="16.44" ry="17.31" fill="#ff1900"/>
<ellipse cx="113.61" cy="323.45" rx="15.92" ry="16.76" fill="#ff0e00"/>
<ellipse cx="113.61" cy="323.45" rx="15.38" ry="16.19" fill="#ff0300"/>
<ellipse cx="113.61" cy="323.45" rx="14.82" ry="15.60" fill="#f80000"/>
<ellipse cx="113.61" cy="323.45" rx="14.24" ry="15.00" fill="#ed0000"/>
<ellipse cx="113.61" cy="323.45" rx="13.64" ry="14.36" fill="#e20000"/>
<ellipse cx="113.61" cy="323.45" rx="13.01" ry="13.70" fill="#d80000"/>
<ellipse cx="113.61" cy="323.45" rx="12.35" ry="13.01" fill="#cd0000"/>
<ellipse cx="113.61" cy="323.45" rx="11.67" ry="12.29" fill="#c20000"/>
<ellipse cx="113.61" cy="323.45" rx="10.95" ry="11.53" fill="#b80000"/>
<ellipse cx="113.61" cy="323.45" rx="10.18" ry="10.72" fill="#ad0000"/>
<ellipse cx="113.61" cy="323.45" rx="9.33" ry="9.82" fill="#a20000"/>
<ellipse cx="113.61" cy="323.45" rx="8.37" ry="8.81" fill="#980000"/>
<ellipse cx="113.61" cy="323.45" rx="7.22" ry="7.60" fill="#8d0000"/>
<ellipse cx="113.61" cy="323.45" rx="5.80" ry="6.11" fill="#820000"/>
<ellipse cx="113.61" cy="323.45" rx="4.00" ry="4.21" fill="#800000"/>
<ellipse cx="113.61" cy="323.45" rx="1.15" ry="1.21" fill="#800000"/>
</g>
<rect x="36.4" y="19.6" width="155.4" height="154.9" fill="none" stroke="#4d4d4d" stroke-width="1"/>
<path d="M65.5 174.5v-1.6M65.5 19.6v1.6M36.4 145.5h1.6M191.8 145.5h-1.6" stroke="#1a1a1a" stroke-width="0.8" fill="none"/>
<text x="65.5" y="199.0" text-anchor="middle">-5</text>
<text x="29.1" y="152.2" text-anchor="end">-5</text>
<path d="M114.1 174.5v-1.6M114.1 19.6v1.6M36.4 97.0h1.6M191.8 97.0h-1.6" stroke="#1a1a1a" stroke-width="0.8" fill="none"/>
<text x="114.1" y="199.0" text-anchor="middle">0</text>
<text x="29.1" y="103.8" text-anchor="end">0</text>
<path d="M162.7 174.5v-1.6M162.7 19.6v1.6M36.4 48.6h1.6M191.8 48.6h-1.6" stroke="#1a1a1a" stroke-width="0.8" fill="none"/>
<text x="162.7" y="199.0" text-anchor="middle">5</text>
<text x="29.1" y="55.3" text-anchor="end">5</text>
<text x="114.7" y="211.7" text-anchor="middle" font-size="17.3">x (µm)</text>
<text transform="translate(13.3 97.8) rotate(-90)" text-anchor="middle" font-size="17.3">y (µm)</text>
<text x="115.2" y="14.2" text-anchor="middle" font-size="18.4" font-weight="bold" fill="#111">Multiscan</text>
<text x="37.1" y="37.5" font-size="18.5" font-weight="bold" fill="#fff" letter-spacing="0.7">(a)</text>
<rect x="36.4" y="245.6" width="155.4" height="155.70000000000002" fill="none" stroke="#4d4d4d" stroke-width="1"/>
<path d="M65.5 401.3v-1.6M65.5 245.6v1.6M36.4 372.1h1.6M191.8 372.1h-1.6" stroke="#1a1a1a" stroke-width="0.8" fill="none"/>
<text x="65.5" y="425.8" text-anchor="middle">-5</text>
<text x="29.1" y="378.8" text-anchor="end">-5</text>
<path d="M114.1 401.3v-1.6M114.1 245.6v1.6M36.4 323.4h1.6M191.8 323.4h-1.6" stroke="#1a1a1a" stroke-width="0.8" fill="none"/>
<text x="114.1" y="425.8" text-anchor="middle">0</text>
<text x="29.1" y="330.1" text-anchor="end">0</text>
<path d="M162.7 401.3v-1.6M162.7 245.6v1.6M36.4 274.8h1.6M191.8 274.8h-1.6" stroke="#1a1a1a" stroke-width="0.8" fill="none"/>
<text x="162.7" y="425.8" text-anchor="middle">5</text>
<text x="29.1" y="281.5" text-anchor="end">5</text>
<text x="114.7" y="438.5" text-anchor="middle" font-size="17.3">x (µm)</text>
<text transform="translate(13.3 324.2) rotate(-90)" text-anchor="middle" font-size="17.3">y (µm)</text>
<text x="115.0" y="240.2" text-anchor="middle" font-size="18.4" font-weight="bold" fill="#111">Halfscan</text>
<text x="37.8" y="263.5" font-size="18.5" font-weight="bold" fill="#fff" letter-spacing="1.4">(b)</text>
<rect x="209.4" y="19.4" width="23.2" height="155.1" fill="url(#jet)" stroke="#4d4d4d" stroke-width="1"/>
<path d="M232.6 174.5h-1.8" stroke="#1a1a1a" stroke-width="0.8"/>
<text x="238.5" y="181.4">0</text>
<path d="M232.6 141.6h-1.8" stroke="#1a1a1a" stroke-width="0.8"/>
<text x="238.5" y="148.5">200</text>
<path d="M232.6 108.7h-1.8" stroke="#1a1a1a" stroke-width="0.8"/>
<text x="238.5" y="115.6">400</text>
<path d="M232.6 75.8h-1.8" stroke="#1a1a1a" stroke-width="0.8"/>
<text x="238.5" y="82.7">600</text>
<path d="M232.6 42.9h-1.8" stroke="#1a1a1a" stroke-width="0.8"/>
<text x="238.5" y="49.8">800</text>
<text transform="translate(225.7 93.7) rotate(-90)" text-anchor="middle" font-size="17.3" fill="#000">Intensity (a.u.)</text>
<rect x="209.4" y="245.5" width="23.2" height="155.8" fill="url(#jet)" stroke="#4d4d4d" stroke-width="1"/>
<path d="M232.6 401.3h-1.8" stroke="#1a1a1a" stroke-width="0.8"/>
<text x="238.5" y="408.2">0</text>
<path d="M232.6 368.6h-1.8" stroke="#1a1a1a" stroke-width="0.8"/>
<text x="238.5" y="375.5">200</text>
<path d="M232.6 336.0h-1.8" stroke="#1a1a1a" stroke-width="0.8"/>
<text x="238.5" y="342.9">400</text>
<path d="M232.6 303.3h-1.8" stroke="#1a1a1a" stroke-width="0.8"/>
<text x="238.5" y="310.2">600</text>
<path d="M232.6 270.7h-1.8" stroke="#1a1a1a" stroke-width="0.8"/>
<text x="238.5" y="277.6">800</text>
<text transform="translate(225.7 324.3) rotate(-90)" text-anchor="middle" font-size="17.3" fill="#000">Intensity (a.u.)</text>
<rect x="341.3" y="56.9" width="342.0" height="303.9" fill="#fff" stroke="#858585" stroke-width="1.5"/>
<path d="M405.4 360.8v-3.4M405.4 56.9v3.4" stroke="#858585" stroke-width="1.3" fill="none"/>
<text x="405.4" y="384.6" text-anchor="middle">-5</text>
<path d="M512.3 360.8v-3.4M512.3 56.9v3.4" stroke="#858585" stroke-width="1.3" fill="none"/>
<text x="512.3" y="384.6" text-anchor="middle">0</text>
<path d="M619.2 360.8v-3.4M619.2 56.9v3.4" stroke="#858585" stroke-width="1.3" fill="none"/>
<text x="619.2" y="384.6" text-anchor="middle">5</text>
<path d="M341.3 360.8h3.4M683.3 360.8h-3.4" stroke="#858585" stroke-width="1.3" fill="none"/>
<text x="333.7" y="367.6" text-anchor="end">0</text>
<path d="M341.3 300.0h3.4M683.3 300.0h-3.4" stroke="#858585" stroke-width="1.3" fill="none"/>
<text x="333.7" y="306.8" text-anchor="end">200</text>
<path d="M341.3 239.2h3.4M683.3 239.2h-3.4" stroke="#858585" stroke-width="1.3" fill="none"/>
<text x="333.7" y="246.0" text-anchor="end">400</text>
<path d="M341.3 178.5h3.4M683.3 178.5h-3.4" stroke="#858585" stroke-width="1.3" fill="none"/>
<text x="333.7" y="185.3" text-anchor="end">600</text>
<path d="M341.3 117.7h3.4M683.3 117.7h-3.4" stroke="#858585" stroke-width="1.3" fill="none"/>
<text x="333.7" y="124.5" text-anchor="end">800</text>
<path d="M341.3 56.9h3.4M683.3 56.9h-3.4" stroke="#858585" stroke-width="1.3" fill="none"/>
<text x="333.7" y="63.7" text-anchor="end">1000</text>
<text x="509.8" y="398.3" text-anchor="middle" font-size="17.3">x (µm)</text>
<text transform="translate(298.8 207.8) rotate(-90)" text-anchor="middle" font-size="17.3" fill="#111">Intensity (a.u.)</text>
<path d="M341.3 360.8L342.4 360.8L343.4 360.8L344.5 360.8L345.6 360.8L346.6 360.8L347.7 360.8L348.8 360.8L349.9 360.8L350.9 360.8L352.0 360.8L353.1 360.8L354.1 360.8L355.2 360.8L356.3 360.8L357.3 360.8L358.4 360.8L359.5 360.8L360.5 360.8L361.6 360.8L362.7 360.8L363.7 360.8L364.8 360.8L365.9 360.8L366.9 360.8L368.0 360.7L369.1 360.7L370.2 360.7L371.2 360.6L372.3 360.6L373.4 360.5L374.4 360.3L375.5 360.2L376.6 360.0L377.6 359.7L378.7 359.3L379.8 358.8L380.8 358.3L381.9 357.7L383.0 356.9L384.1 356.0L385.1 355.0L386.2 353.9L387.3 352.6L388.3 351.2L389.4 349.7L390.5 348.0L391.5 346.2L392.6 344.3L393.7 342.3L394.7 340.2L395.8 338.1L396.9 335.9L397.9 333.6L399.0 331.3L400.1 329.0L401.2 326.7L402.2 324.3L403.3 321.9L404.4 319.5L405.4 317.2L406.5 314.8L407.6 312.4L408.6 310.1L409.7 307.8L410.8 305.5L411.8 303.2L412.9 300.9L414.0 298.5L415.0 296.1L416.1 293.6L417.2 291.0L418.2 288.3L419.3 285.6L420.4 282.8L421.5 280.0L422.5 277.2L423.6 274.5L424.7 271.9L425.7 269.3L426.8 266.7L427.9 264.3L428.9 261.8L430.0 259.4L431.1 257.0L432.1 254.5L433.2 252.0L434.3 249.4L435.4 246.7L436.4 244.0L437.5 241.2L438.6 238.3L439.6 235.4L440.7 232.6L441.8 229.7L442.8 226.8L443.9 224.0L445.0 221.3L446.0 218.5L447.1 215.9L448.2 213.3L449.2 210.7L450.3 208.2L451.4 205.7L452.4 203.2L453.5 200.8L454.6 198.4L455.7 195.9L456.7 193.5L457.8 191.0L458.9 188.5L459.9 186.0L461.0 183.5L462.1 180.9L463.1 178.3L464.2 175.8L465.3 173.2L466.3 170.6L467.4 168.0L468.5 165.4L469.5 162.8L470.6 160.3L471.7 157.7L472.8 155.2L473.8 152.7L474.9 150.2L476.0 147.7L477.0 145.2L478.1 142.8L479.2 140.4L480.2 138.0L481.3 135.7L482.4 133.4L483.4 131.1L484.5 128.8L485.6 126.6L486.6 124.4L487.7 122.3L488.8 120.2L489.9 118.2L490.9 116.2L492.0 114.2L493.1 112.3L494.1 110.4L495.2 108.6L496.3 106.8L497.3 105.1L498.4 103.4L499.5 101.7L500.5 100.1L501.6 98.6L502.7 97.0L503.8 95.5L504.8 94.0L505.9 92.5L507.0 91.1L508.0 89.7L509.1 88.3L510.2 86.9L511.2 85.5L512.3 84.2L513.4 82.9L514.4 81.7L515.5 80.5L516.6 79.3L517.6 78.2L518.7 77.1L519.8 76.1L520.9 75.2L521.9 74.3L523.0 73.5L524.1 72.8L525.1 72.2L526.2 71.7L527.3 71.3L528.3 71.0L529.4 70.7L530.5 70.5L531.5 70.3L532.6 70.3L533.7 70.3L534.7 70.4L535.8 70.6L536.9 70.9L538.0 71.3L539.0 71.8L540.1 72.4L541.2 73.2L542.2 74.0L543.3 75.1L544.4 76.3L545.4 77.7L546.5 79.2L547.6 80.8L548.6 82.6L549.7 84.5L550.8 86.5L551.8 88.6L552.9 90.9L554.0 93.3L555.0 95.9L556.1 98.6L557.2 101.5L558.3 104.5L559.3 107.7L560.4 111.1L561.5 114.6L562.5 118.1L563.6 121.7L564.7 125.4L565.7 129.0L566.8 132.8L567.9 136.5L568.9 140.2L570.0 144.0L571.1 147.9L572.1 151.8L573.2 155.8L574.3 159.9L575.4 164.2L576.4 168.6L577.5 173.2L578.6 177.8L579.6 182.6L580.7 187.4L581.8 192.1L582.8 196.9L583.9 201.7L585.0 206.5L586.0 211.4L587.1 216.5L588.2 221.6L589.2 226.9L590.3 232.3L591.4 237.6L592.5 242.8L593.5 247.7L594.6 252.4L595.7 256.9L596.7 261.1L597.8 265.1L598.9 269.0L599.9 272.8L601.0 276.4L602.1 280.1L603.1 283.7L604.2 287.2L605.3 290.7L606.3 294.2L607.4 297.7L608.5 301.2L609.6 304.6L610.6 308.0L611.7 311.3L612.8 314.5L613.8 317.7L614.9 320.8L616.0 323.8L617.0 326.7L618.1 329.5L619.2 332.1L620.2 334.7L621.3 337.1L622.4 339.4L623.5 341.5L624.5 343.5L625.6 345.4L626.7 347.2L627.7 348.8L628.8 350.4L629.9 351.7L630.9 353.0L632.0 354.1L633.1 355.1L634.1 355.9L635.2 356.7L636.3 357.4L637.3 358.0L638.4 358.5L639.5 358.9L640.5 359.3L641.6 359.6L642.7 359.9L643.8 360.1L644.8 360.3L645.9 360.4L647.0 360.5L648.0 360.6L649.1 360.7L650.2 360.7L651.2 360.7L652.3 360.8L653.4 360.8L654.4 360.8L655.5 360.8L656.6 360.8L657.6 360.8L658.7 360.8L659.8 360.8L660.9 360.8L661.9 360.8L663.0 360.8L664.1 360.8L665.1 360.8L666.2 360.8L667.3 360.8L668.3 360.8L669.4 360.8L670.5 360.8L671.5 360.8L672.6 360.8L673.7 360.8L674.8 360.8L675.8 360.8L676.9 360.8L678.0 360.8L679.0 360.8L680.1 360.8L681.2 360.8L682.2 360.8L683.3 360.8" fill="none" stroke="#3d94d2" stroke-width="1.45" stroke-linejoin="round"/>
<path d="M341.3 360.8L342.4 360.8L343.4 360.8L344.5 360.8L345.6 360.8L346.6 360.8L347.7 360.8L348.8 360.8L349.9 360.8L350.9 360.8L352.0 360.8L353.1 360.8L354.1 360.8L355.2 360.8L356.3 360.8L357.3 360.8L358.4 360.8L359.5 360.8L360.5 360.8L361.6 360.8L362.7 360.8L363.7 360.8L364.8 360.8L365.9 360.8L366.9 360.8L368.0 360.8L369.1 360.8L370.2 360.8L371.2 360.7L372.3 360.7L373.4 360.7L374.4 360.6L375.5 360.6L376.6 360.5L377.6 360.4L378.7 360.2L379.8 360.0L380.8 359.7L381.9 359.3L383.0 358.7L384.1 358.1L385.1 357.3L386.2 356.4L387.3 355.4L388.3 354.2L389.4 352.9L390.5 351.5L391.5 350.0L392.6 348.3L393.7 346.5L394.7 344.7L395.8 342.7L396.9 340.7L397.9 338.5L399.0 336.4L400.1 334.1L401.2 331.9L402.2 329.5L403.3 327.1L404.4 324.7L405.4 322.2L406.5 319.7L407.6 317.1L408.6 314.5L409.7 311.9L410.8 309.3L411.8 306.7L412.9 304.1L414.0 301.4L415.0 298.8L416.1 296.0L417.2 293.2L418.2 290.3L419.3 287.4L420.4 284.3L421.5 281.2L422.5 278.0L423.6 274.8L424.7 271.5L425.7 268.1L426.8 264.7L427.9 261.3L428.9 257.8L430.0 254.3L431.1 250.8L432.1 247.3L433.2 243.9L434.3 240.5L435.4 237.1L436.4 233.7L437.5 230.3L438.6 226.9L439.6 223.5L440.7 220.2L441.8 216.8L442.8 213.4L443.9 210.0L445.0 206.6L446.0 203.3L447.1 199.9L448.2 196.5L449.2 193.1L450.3 189.6L451.4 186.2L452.4 182.7L453.5 179.2L454.6 175.8L455.7 172.3L456.7 168.8L457.8 165.3L458.9 161.9L459.9 158.4L461.0 155.0L462.1 151.7L463.1 148.3L464.2 145.0L465.3 141.7L466.3 138.4L467.4 135.1L468.5 131.9L469.5 128.7L470.6 125.6L471.7 122.5L472.8 119.6L473.8 116.8L474.9 114.0L476.0 111.3L477.0 108.7L478.1 106.1L479.2 103.6L480.2 101.1L481.3 98.6L482.4 96.2L483.4 93.9L484.5 91.6L485.6 89.4L486.6 87.4L487.7 85.4L488.8 83.6L489.9 81.8L490.9 80.2L492.0 78.7L493.1 77.3L494.1 76.0L495.2 74.8L496.3 73.7L497.3 72.6L498.4 71.7L499.5 70.8L500.5 70.1L501.6 69.4L502.7 68.8L503.8 68.2L504.8 67.8L505.9 67.4L507.0 67.1L508.0 66.9L509.1 66.8L510.2 66.7L511.2 66.8L512.3 66.9L513.4 67.2L514.4 67.6L515.5 68.1L516.6 68.7L517.6 69.4L518.7 70.2L519.8 71.0L520.9 71.9L521.9 72.8L523.0 73.6L524.1 74.6L525.1 75.5L526.2 76.5L527.3 77.6L528.3 78.8L529.4 80.1L530.5 81.6L531.5 83.1L532.6 84.7L533.7 86.5L534.7 88.4L535.8 90.3L536.9 92.3L538.0 94.4L539.0 96.5L540.1 98.6L541.2 100.8L542.2 103.1L543.3 105.6L544.4 108.1L545.4 110.9L546.5 113.7L547.6 116.6L548.6 119.4L549.7 122.3L550.8 125.1L551.8 127.8L552.9 130.4L554.0 133.1L555.0 135.7L556.1 138.2L557.2 140.8L558.3 143.3L559.3 145.8L560.4 148.4L561.5 151.0L562.5 153.6L563.6 156.3L564.7 159.1L565.7 162.0L566.8 165.0L567.9 168.2L568.9 171.4L570.0 174.8L571.1 178.2L572.1 181.7L573.2 185.2L574.3 188.7L575.4 192.1L576.4 195.6L577.5 199.0L578.6 202.4L579.6 205.7L580.7 209.1L581.8 212.5L582.8 215.9L583.9 219.3L585.0 222.8L586.0 226.2L587.1 229.7L588.2 233.2L589.2 236.8L590.3 240.3L591.4 243.9L592.5 247.5L593.5 251.1L594.6 254.8L595.7 258.4L596.7 261.9L597.8 265.4L598.9 268.7L599.9 271.9L601.0 274.9L602.1 277.8L603.1 280.7L604.2 283.6L605.3 286.4L606.3 289.3L607.4 292.2L608.5 295.2L609.6 298.2L610.6 301.2L611.7 304.2L612.8 307.2L613.8 310.2L614.9 313.1L616.0 315.9L617.0 318.7L618.1 321.5L619.2 324.1L620.2 326.7L621.3 329.2L622.4 331.7L623.5 334.1L624.5 336.4L625.6 338.7L626.7 340.9L627.7 342.9L628.8 344.9L629.9 346.8L630.9 348.5L632.0 350.1L633.1 351.6L634.1 353.0L635.2 354.2L636.3 355.3L637.3 356.2L638.4 357.0L639.5 357.7L640.5 358.3L641.6 358.8L642.7 359.2L643.8 359.6L644.8 359.8L645.9 360.1L647.0 360.2L648.0 360.4L649.1 360.5L650.2 360.6L651.2 360.6L652.3 360.7L653.4 360.7L654.4 360.7L655.5 360.8L656.6 360.8L657.6 360.8L658.7 360.8L659.8 360.8L660.9 360.8L661.9 360.8L663.0 360.8L664.1 360.8L665.1 360.8L666.2 360.8L667.3 360.8L668.3 360.8L669.4 360.8L670.5 360.8L671.5 360.8L672.6 360.8L673.7 360.8L674.8 360.8L675.8 360.8L676.9 360.8L678.0 360.8L679.0 360.8L680.1 360.8L681.2 360.8L682.2 360.8L683.3 360.8" fill="none" stroke="#e4845a" stroke-width="1.45" stroke-linejoin="round"/>
<rect x="345.4" y="59.5" width="132.0" height="46.6" fill="#fff" stroke="#5a5a5a" stroke-width="1.1"/>
<path d="M350.5 72.3H402" stroke="#3d94d2" stroke-width="1.45"/>
<path d="M350.5 93.3H402" stroke="#e4845a" stroke-width="1.45"/>
<text x="405.9" y="78.4" font-size="15.6">Multiscan</text>
<text x="405.9" y="98.7" font-size="15.6">Halfscan</text>
<text x="653" y="77.2" font-size="18" font-weight="bold" fill="#111">(c)</text>
</svg>
</body></html>
